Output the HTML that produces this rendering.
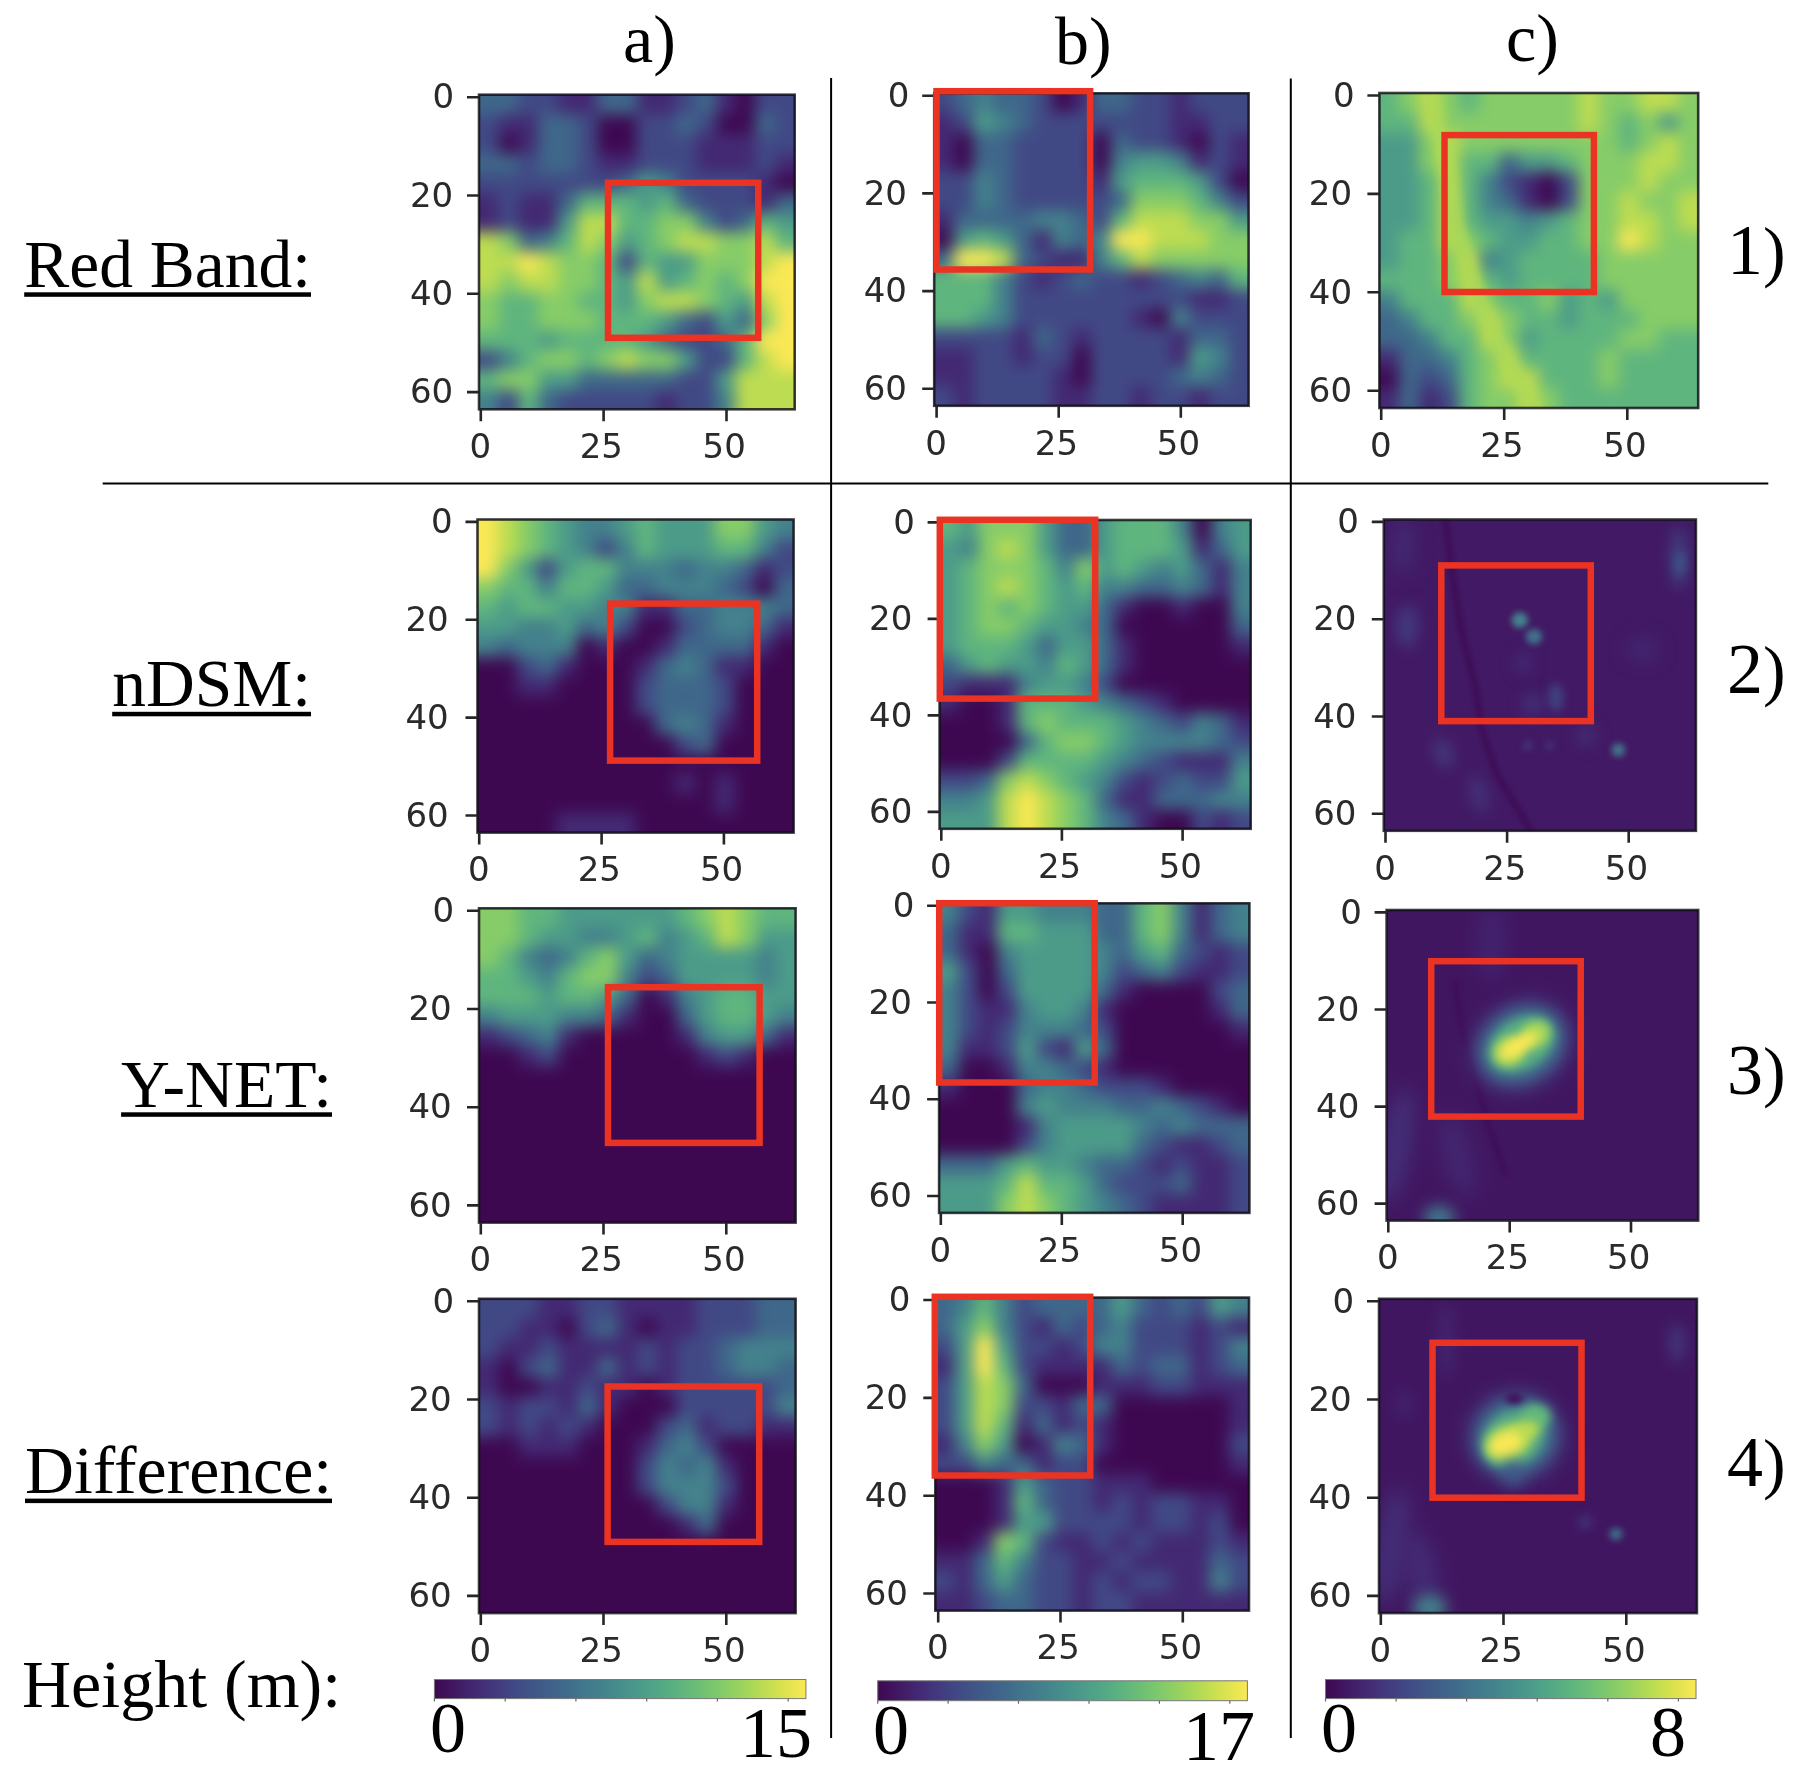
<!DOCTYPE html>
<html lang="en"><head><meta charset="utf-8"><title>Figure</title>
<style>html,body{margin:0;padding:0;background:#fff}svg{display:block}.t{font-family:"DejaVu Sans","Liberation Sans",sans-serif;font-size:34px;fill:#2a2a2a}.s{font-family:"Liberation Serif","Times New Roman",serif;font-size:68px;fill:#000}</style></head><body>
<svg width="1804" height="1784" viewBox="0 0 1804 1784">
<defs>
<filter id="b9" x="-10%" y="-10%" width="120%" height="120%" color-interpolation-filters="sRGB"><feGaussianBlur stdDeviation="7.2"/></filter>
<filter id="b6" x="-10%" y="-10%" width="120%" height="120%" color-interpolation-filters="sRGB"><feGaussianBlur stdDeviation="6"/></filter>
<filter id="b12" x="-10%" y="-10%" width="120%" height="120%" color-interpolation-filters="sRGB"><feGaussianBlur stdDeviation="12"/></filter>
<filter id="d05" x="-200%" y="-200%" width="500%" height="500%" color-interpolation-filters="sRGB"><feGaussianBlur stdDeviation="0.5"/></filter>
<filter id="d07" x="-200%" y="-200%" width="500%" height="500%" color-interpolation-filters="sRGB"><feGaussianBlur stdDeviation="0.7"/></filter>
<filter id="d1" x="-200%" y="-200%" width="500%" height="500%" color-interpolation-filters="sRGB"><feGaussianBlur stdDeviation="1"/></filter>
<filter id="d15" x="-200%" y="-200%" width="500%" height="500%" color-interpolation-filters="sRGB"><feGaussianBlur stdDeviation="1.5"/></filter>
<filter id="d2" x="-200%" y="-200%" width="500%" height="500%" color-interpolation-filters="sRGB"><feGaussianBlur stdDeviation="2"/></filter>
<filter id="d3" x="-200%" y="-200%" width="500%" height="500%" color-interpolation-filters="sRGB"><feGaussianBlur stdDeviation="3"/></filter>
<filter id="tb" x="-5%" y="-5%" width="110%" height="110%"><feGaussianBlur stdDeviation="0.7"/></filter>
<linearGradient id="vg" x1="0" x2="1" y1="0" y2="0"><stop offset="0" stop-color="#3e0851"/><stop offset="0.05" stop-color="#411661"/><stop offset="0.1" stop-color="#432670"/><stop offset="0.15" stop-color="#43357c"/><stop offset="0.2" stop-color="#414483"/><stop offset="0.25" stop-color="#405287"/><stop offset="0.3" stop-color="#3f5e89"/><stop offset="0.35" stop-color="#3f6a8b"/><stop offset="0.4" stop-color="#41778c"/><stop offset="0.45" stop-color="#43828c"/><stop offset="0.5" stop-color="#468e8c"/><stop offset="0.55" stop-color="#4b9a8a"/><stop offset="0.6" stop-color="#51a686"/><stop offset="0.65" stop-color="#5bb180"/><stop offset="0.7" stop-color="#69bc78"/><stop offset="0.75" stop-color="#7ac76e"/><stop offset="0.8" stop-color="#8fcf63"/><stop offset="0.85" stop-color="#a8d758"/><stop offset="0.9" stop-color="#c4de50"/><stop offset="0.95" stop-color="#e0e34e"/><stop offset="1" stop-color="#fae855"/></linearGradient>
<clipPath id="cp0"><rect x="479" y="94.7" width="315.7" height="314.6"/></clipPath>
<clipPath id="cp1"><rect x="934.2" y="93.3" width="314.4" height="312.5"/></clipPath>
<clipPath id="cp2"><rect x="1379.4" y="93" width="318.8" height="315"/></clipPath>
<clipPath id="cp3"><rect x="477.5" y="519.5" width="316.1" height="313.1"/></clipPath>
<clipPath id="cp4"><rect x="939.6" y="520" width="311.1" height="308.8"/></clipPath>
<clipPath id="cp5"><rect x="1383.8" y="519.5" width="312.1" height="311.3"/></clipPath>
<clipPath id="cp6"><rect x="479" y="908.3" width="316.6" height="314.3"/></clipPath>
<clipPath id="cp7"><rect x="939.1" y="903.3" width="310.3" height="309.6"/></clipPath>
<clipPath id="cp8"><rect x="1386.6" y="910" width="311.6" height="310.6"/></clipPath>
<clipPath id="cp9"><rect x="479" y="1298.8" width="316.6" height="314.3"/></clipPath>
<clipPath id="cp10"><rect x="935.3" y="1297.6" width="313.7" height="313"/></clipPath>
<clipPath id="cp11"><rect x="1379" y="1298.8" width="317.9" height="314.3"/></clipPath>
</defs>
<rect width="1804" height="1784" fill="#fff"/>
<g clip-path="url(#cp0)">
<rect x="477" y="92.7" width="319.7" height="318.6" fill="#3e0851"/>
<g filter="url(#b9)"><path fill="#3e0851" d="M735.2 74.7h20.3v20.3h-20.3zM735.2 94.4h20.3v20.3h-20.3zM597.1 114.1h40.1v20.3h-40.1zM715.5 114.1h40.1v20.3h-40.1zM498.4 133.7h20.3v20.3h-20.3zM597.1 133.7h40.1v20.3h-40.1zM774.7 173.1h40.1v20.3h-40.1z"/><path fill="#432973" d="M557.6 74.7h40.1v20.3h-40.1zM636.6 74.7h40.1v20.3h-40.1zM715.5 74.7h20.3v20.3h-20.3zM557.6 94.4h40.1v20.3h-40.1zM636.6 94.4h40.1v20.3h-40.1zM715.5 94.4h20.3v20.3h-20.3zM498.4 114.1h40.1v20.3h-40.1zM518.2 133.7h20.3v20.3h-20.3zM695.7 133.7h59.8v20.3h-59.8zM597.1 153.4h40.1v20.3h-40.1zM695.7 153.4h59.8v20.3h-59.8zM774.7 153.4h40.1v20.3h-40.1zM754.9 173.1h20.3v20.3h-20.3zM459 192.7h40.1v20.3h-40.1zM518.2 192.7h40.1v20.3h-40.1zM754.9 192.7h20.3v20.3h-20.3zM459 212.4h40.1v20.3h-40.1zM518.2 212.4h40.1v20.3h-40.1zM656.3 389.3h20.3v20.3h-20.3zM656.3 409h20.3v20.3h-20.3z"/><path fill="#414985" d="M518.2 74.7h40.1v20.3h-40.1zM676 74.7h20.3v20.3h-20.3zM754.9 74.7h59.8v20.3h-59.8zM518.2 94.4h40.1v20.3h-40.1zM676 94.4h20.3v20.3h-20.3zM754.9 94.4h59.8v20.3h-59.8zM459 114.1h40.1v20.3h-40.1zM577.4 114.1h20.3v20.3h-20.3zM636.6 114.1h40.1v20.3h-40.1zM695.7 114.1h20.3v20.3h-20.3zM774.7 114.1h40.1v20.3h-40.1zM459 133.7h40.1v20.3h-40.1zM577.4 133.7h20.3v20.3h-20.3zM636.6 133.7h59.8v20.3h-59.8zM754.9 133.7h59.8v20.3h-59.8zM518.2 153.4h20.3v20.3h-20.3zM577.4 153.4h20.3v20.3h-20.3zM636.6 153.4h59.8v20.3h-59.8zM754.9 153.4h20.3v20.3h-20.3zM459 173.1h158.5v20.3h-158.5zM676 173.1h79.5v20.3h-79.5zM498.4 192.7h20.3v20.3h-20.3zM695.7 192.7h59.8v20.3h-59.8zM498.4 212.4h20.3v20.3h-20.3zM715.5 212.4h20.3v20.3h-20.3zM616.8 251.7h20.3v20.3h-20.3zM695.7 310.7h20.3v20.3h-20.3zM676 330.4h40.1v20.3h-40.1zM459 350h40.1v20.3h-40.1zM695.7 350h40.1v20.3h-40.1zM676 369.7h40.1v20.3h-40.1zM498.4 389.3h20.3v20.3h-20.3zM557.6 389.3h99.3v20.3h-99.3zM676 389.3h40.1v20.3h-40.1zM498.4 409h20.3v20.3h-20.3zM557.6 409h99.3v20.3h-99.3zM676 409h40.1v20.3h-40.1z"/><path fill="#3f678a" d="M459 74.7h59.8v20.3h-59.8zM597.1 74.7h40.1v20.3h-40.1zM695.7 74.7h20.3v20.3h-20.3zM459 94.4h59.8v20.3h-59.8zM597.1 94.4h40.1v20.3h-40.1zM695.7 94.4h20.3v20.3h-20.3zM537.9 114.1h40.1v20.3h-40.1zM676 114.1h20.3v20.3h-20.3zM754.9 114.1h20.3v20.3h-20.3zM537.9 133.7h40.1v20.3h-40.1zM459 153.4h59.8v20.3h-59.8zM537.9 153.4h40.1v20.3h-40.1zM616.8 173.1h20.3v20.3h-20.3zM557.6 192.7h20.3v20.3h-20.3zM676 192.7h20.3v20.3h-20.3zM774.7 192.7h40.1v20.3h-40.1zM735.2 212.4h20.3v20.3h-20.3zM518.2 232h20.3v20.3h-20.3zM676 310.7h20.3v20.3h-20.3zM735.2 310.7h20.3v20.3h-20.3zM656.3 330.4h20.3v20.3h-20.3zM715.5 330.4h20.3v20.3h-20.3zM577.4 369.7h99.3v20.3h-99.3zM537.9 389.3h20.3v20.3h-20.3zM537.9 409h20.3v20.3h-20.3z"/><path fill="#43818c" d="M656.3 173.1h20.3v20.3h-20.3zM695.7 212.4h20.3v20.3h-20.3zM537.9 232h20.3v20.3h-20.3zM498.4 350h20.3v20.3h-20.3zM459 389.3h40.1v20.3h-40.1zM715.5 389.3h20.3v20.3h-20.3zM459 409h40.1v20.3h-40.1zM715.5 409h20.3v20.3h-20.3z"/><path fill="#4c9b89" d="M636.6 173.1h20.3v20.3h-20.3zM636.6 192.7h20.3v20.3h-20.3zM557.6 212.4h20.3v20.3h-20.3zM774.7 212.4h40.1v20.3h-40.1zM616.8 232h20.3v20.3h-20.3zM656.3 251.7h40.1v20.3h-40.1zM616.8 271.4h20.3v20.3h-20.3zM656.3 271.4h20.3v20.3h-20.3zM616.8 291h20.3v20.3h-20.3zM735.2 291h20.3v20.3h-20.3zM656.3 310.7h20.3v20.3h-20.3zM715.5 310.7h20.3v20.3h-20.3zM537.9 330.4h20.3v20.3h-20.3zM636.6 330.4h20.3v20.3h-20.3zM676 350h20.3v20.3h-20.3zM537.9 369.7h40.1v20.3h-40.1zM715.5 369.7h20.3v20.3h-20.3z"/><path fill="#5fb57e" d="M577.4 192.7h59.8v20.3h-59.8zM656.3 192.7h20.3v20.3h-20.3zM616.8 212.4h40.1v20.3h-40.1zM754.9 212.4h20.3v20.3h-20.3zM557.6 232h20.3v20.3h-20.3zM636.6 232h20.3v20.3h-20.3zM774.7 232h40.1v20.3h-40.1zM597.1 251.7h20.3v20.3h-20.3zM636.6 251.7h20.3v20.3h-20.3zM597.1 271.4h20.3v20.3h-20.3zM676 271.4h20.3v20.3h-20.3zM715.5 271.4h20.3v20.3h-20.3zM498.4 291h40.1v20.3h-40.1zM577.4 291h40.1v20.3h-40.1zM715.5 291h20.3v20.3h-20.3zM498.4 310.7h40.1v20.3h-40.1zM597.1 310.7h59.8v20.3h-59.8zM459 330.4h79.5v20.3h-79.5zM557.6 330.4h79.5v20.3h-79.5zM735.2 330.4h20.3v20.3h-20.3zM518.2 350h20.3v20.3h-20.3zM577.4 350h20.3v20.3h-20.3zM735.2 350h20.3v20.3h-20.3zM459 369.7h40.1v20.3h-40.1zM518.2 389.3h20.3v20.3h-20.3zM518.2 409h20.3v20.3h-20.3z"/><path fill="#86cc68" d="M656.3 212.4h40.1v20.3h-40.1zM498.4 232h20.3v20.3h-20.3zM597.1 232h20.3v20.3h-20.3zM656.3 232h20.3v20.3h-20.3zM715.5 232h40.1v20.3h-40.1zM557.6 251.7h40.1v20.3h-40.1zM695.7 251.7h59.8v20.3h-59.8zM498.4 271.4h20.3v20.3h-20.3zM557.6 271.4h40.1v20.3h-40.1zM695.7 271.4h20.3v20.3h-20.3zM735.2 271.4h20.3v20.3h-20.3zM459 291h40.1v20.3h-40.1zM537.9 291h40.1v20.3h-40.1zM636.6 291h20.3v20.3h-20.3zM695.7 291h20.3v20.3h-20.3zM459 310.7h40.1v20.3h-40.1zM537.9 310.7h59.8v20.3h-59.8zM754.9 310.7h20.3v20.3h-20.3zM537.9 350h40.1v20.3h-40.1zM597.1 350h20.3v20.3h-20.3zM636.6 350h40.1v20.3h-40.1zM498.4 369.7h40.1v20.3h-40.1z"/><path fill="#bddc51" d="M577.4 212.4h40.1v20.3h-40.1zM459 232h40.1v20.3h-40.1zM577.4 232h20.3v20.3h-20.3zM676 232h40.1v20.3h-40.1zM754.9 232h20.3v20.3h-20.3zM459 251.7h59.8v20.3h-59.8zM537.9 251.7h20.3v20.3h-20.3zM754.9 251.7h20.3v20.3h-20.3zM459 271.4h40.1v20.3h-40.1zM518.2 271.4h40.1v20.3h-40.1zM636.6 271.4h20.3v20.3h-20.3zM656.3 291h40.1v20.3h-40.1zM754.9 291h20.3v20.3h-20.3zM616.8 350h20.3v20.3h-20.3zM754.9 350h20.3v20.3h-20.3zM735.2 369.7h79.5v20.3h-79.5zM735.2 389.3h79.5v20.3h-79.5zM735.2 409h79.5v20.3h-79.5z"/><path fill="#fae855" d="M518.2 251.7h20.3v20.3h-20.3zM774.7 251.7h40.1v20.3h-40.1zM754.9 271.4h59.8v20.3h-59.8zM774.7 291h40.1v20.3h-40.1zM774.7 310.7h40.1v20.3h-40.1zM754.9 330.4h59.8v20.3h-59.8zM774.7 350h40.1v20.3h-40.1z"/></g>
</g>
<rect x="479" y="94.7" width="315.7" height="314.6" fill="none" stroke="#0c0c14" stroke-opacity="0.8" stroke-width="2.6"/>
<g filter="url(#tb)">
<text class="t" x="480.3" y="458.1" text-anchor="middle">0</text>
<text class="t" x="601.3" y="458.1" text-anchor="middle">25</text>
<text class="t" x="724.2" y="458.1" text-anchor="middle">50</text>
<text class="t" x="454.2" y="108.4" text-anchor="end">0</text>
<text class="t" x="453.2" y="206.7" text-anchor="end">20</text>
<text class="t" x="453.2" y="305" text-anchor="end">40</text>
<text class="t" x="453.2" y="403.3" text-anchor="end">60</text>
<path d="M480.8 409.3v12M603.6 409.3v12M726.5 409.3v12M479 97.2h-12M479 195.5h-12M479 293.8h-12M479 392.1h-12" stroke="#262626" stroke-width="2.6" fill="none"/>
</g>
<rect x="608" y="182.8" width="150.2" height="155" fill="none" stroke="#ea3323" stroke-width="6.5"/>
<g clip-path="url(#cp1)">
<rect x="932.2" y="91.3" width="318.4" height="316.5" fill="#3e0851"/>
<g filter="url(#b9)"><path fill="#3e0851" d="M1051.8 73.5h20.3v20.1h-20.3zM1051.8 93h20.3v20.1h-20.3zM953.6 132.1h20.2v20.1h-20.2zM1091.1 132.1h20.2v20.1h-20.2zM1189.3 132.1h20.3v20.1h-20.3zM953.6 151.6h20.2v20.1h-20.2zM1091.1 151.6h20.2v20.1h-20.2zM1228.6 171.1h39.9v20.1h-39.9zM914.3 229.7h39.9v20.1h-39.9zM1150 307.8h20.3v20.1h-20.3zM1071.5 346.9h20.3v20.1h-20.3zM1071.5 366.4h20.3v20.1h-20.3z"/><path fill="#432973" d="M1071.5 73.5h20.3v20.1h-20.3zM1169.7 73.5h20.2v20.1h-20.2zM1071.5 93h20.3v20.1h-20.3zM1169.7 93h20.2v20.1h-20.2zM914.3 112.5h39.9v20.1h-39.9zM1169.7 112.5h39.9v20.1h-39.9zM914.3 132.1h39.9v20.1h-39.9zM1169.7 132.1h20.2v20.1h-20.2zM1228.6 132.1h39.9v20.1h-39.9zM914.3 151.6h39.9v20.1h-39.9zM1189.3 151.6h20.3v20.1h-20.3zM1228.6 151.6h39.9v20.1h-39.9zM1091.1 171.1h20.2v20.1h-20.2zM914.3 210.2h39.9v20.1h-39.9zM1032.2 229.7h20.2v20.1h-20.2zM1051.8 249.2h39.9v20.1h-39.9zM1032.2 268.8h20.2v20.1h-20.2zM1130.4 268.8h20.2v20.1h-20.2zM1189.3 288.3h39.9v20.1h-39.9zM1130.4 307.8h20.2v20.1h-20.2zM1012.5 327.4h20.3v20.1h-20.3zM1071.5 327.4h20.3v20.1h-20.3zM1169.7 327.4h20.2v20.1h-20.2zM914.3 346.9h59.5v20.1h-59.5zM1012.5 346.9h20.3v20.1h-20.3zM1169.7 346.9h20.2v20.1h-20.2zM914.3 366.4h59.5v20.1h-59.5zM1051.8 366.4h20.3v20.1h-20.3zM953.6 386h20.2v20.1h-20.2zM1051.8 386h39.9v20.1h-39.9zM1130.4 386h20.2v20.1h-20.2zM1189.3 386h20.3v20.1h-20.3zM953.6 405.5h20.2v20.1h-20.2zM1051.8 405.5h39.9v20.1h-39.9zM1130.4 405.5h20.2v20.1h-20.2zM1189.3 405.5h20.3v20.1h-20.3z"/><path fill="#414985" d="M914.3 73.5h39.9v20.1h-39.9zM1032.2 73.5h20.2v20.1h-20.2zM1130.4 73.5h39.9v20.1h-39.9zM1189.3 73.5h79.2v20.1h-79.2zM914.3 93h39.9v20.1h-39.9zM1032.2 93h20.2v20.1h-20.2zM1130.4 93h39.9v20.1h-39.9zM1189.3 93h79.2v20.1h-79.2zM953.6 112.5h20.2v20.1h-20.2zM1032.2 112.5h138.1v20.1h-138.1zM1209 112.5h59.6v20.1h-59.6zM1012.5 132.1h79.2v20.1h-79.2zM1130.4 132.1h39.9v20.1h-39.9zM1209 132.1h20.2v20.1h-20.2zM1012.5 151.6h79.2v20.1h-79.2zM1209 151.6h20.2v20.1h-20.2zM914.3 171.1h59.5v20.1h-59.5zM1012.5 171.1h79.2v20.1h-79.2zM1209 171.1h20.2v20.1h-20.2zM914.3 190.7h59.5v20.1h-59.5zM1012.5 190.7h98.8v20.1h-98.8zM1228.6 190.7h39.9v20.1h-39.9zM1091.1 210.2h20.2v20.1h-20.2zM1032.2 249.2h20.2v20.1h-20.2zM1012.5 268.8h20.3v20.1h-20.3zM1051.8 268.8h20.3v20.1h-20.3zM1091.1 268.8h39.9v20.1h-39.9zM1150 268.8h20.3v20.1h-20.3zM1012.5 288.3h177.4v20.1h-177.4zM1228.6 288.3h39.9v20.1h-39.9zM1012.5 307.8h118.5v20.1h-118.5zM1189.3 307.8h79.2v20.1h-79.2zM914.3 327.4h98.8v20.1h-98.8zM1051.8 327.4h20.3v20.1h-20.3zM1091.1 327.4h79.2v20.1h-79.2zM1228.6 327.4h39.9v20.1h-39.9zM973.2 346.9h39.9v20.1h-39.9zM1032.2 346.9h39.9v20.1h-39.9zM1091.1 346.9h79.2v20.1h-79.2zM1228.6 346.9h39.9v20.1h-39.9zM973.2 366.4h79.2v20.1h-79.2zM1091.1 366.4h79.2v20.1h-79.2zM1228.6 366.4h39.9v20.1h-39.9zM914.3 386h39.9v20.1h-39.9zM973.2 386h79.2v20.1h-79.2zM1091.1 386h39.9v20.1h-39.9zM1150 386h39.9v20.1h-39.9zM1209 386h59.6v20.1h-59.6zM914.3 405.5h39.9v20.1h-39.9zM973.2 405.5h79.2v20.1h-79.2zM1091.1 405.5h39.9v20.1h-39.9zM1150 405.5h39.9v20.1h-39.9zM1209 405.5h59.6v20.1h-59.6z"/><path fill="#3f678a" d="M953.6 73.5h20.2v20.1h-20.2zM992.9 73.5h39.9v20.1h-39.9zM1091.1 73.5h39.9v20.1h-39.9zM953.6 93h20.2v20.1h-20.2zM992.9 93h39.9v20.1h-39.9zM1091.1 93h39.9v20.1h-39.9zM1012.5 112.5h20.3v20.1h-20.3zM973.2 132.1h39.9v20.1h-39.9zM1110.8 132.1h20.3v20.1h-20.3zM973.2 151.6h39.9v20.1h-39.9zM992.9 171.1h20.2v20.1h-20.2zM992.9 190.7h20.2v20.1h-20.2zM1110.8 190.7h20.3v20.1h-20.3zM953.6 210.2h79.2v20.1h-79.2zM1071.5 210.2h20.3v20.1h-20.3zM1012.5 229.7h20.3v20.1h-20.3zM1071.5 229.7h20.3v20.1h-20.3zM914.3 249.2h39.9v20.1h-39.9zM1012.5 249.2h20.3v20.1h-20.3zM1071.5 268.8h20.3v20.1h-20.3zM1169.7 268.8h20.2v20.1h-20.2zM1209 268.8h20.2v20.1h-20.2zM1032.2 327.4h20.2v20.1h-20.2zM1189.3 327.4h39.9v20.1h-39.9zM1169.7 366.4h20.2v20.1h-20.2zM1209 366.4h20.2v20.1h-20.2z"/><path fill="#43818c" d="M973.2 73.5h20.2v20.1h-20.2zM973.2 93h20.2v20.1h-20.2zM992.9 112.5h20.2v20.1h-20.2zM1110.8 151.6h20.3v20.1h-20.3zM1169.7 151.6h20.2v20.1h-20.2zM973.2 171.1h20.2v20.1h-20.2zM973.2 190.7h20.2v20.1h-20.2zM1209 190.7h20.2v20.1h-20.2zM1032.2 210.2h39.9v20.1h-39.9zM1051.8 229.7h20.3v20.1h-20.3zM1091.1 229.7h20.2v20.1h-20.2zM1091.1 249.2h20.2v20.1h-20.2zM992.9 268.8h20.2v20.1h-20.2zM1189.3 268.8h20.3v20.1h-20.3zM992.9 288.3h20.2v20.1h-20.2zM992.9 307.8h20.2v20.1h-20.2zM1169.7 307.8h20.2v20.1h-20.2zM1209 346.9h20.2v20.1h-20.2zM1189.3 366.4h20.3v20.1h-20.3z"/><path fill="#4c9b89" d="M973.2 112.5h20.2v20.1h-20.2zM1130.4 151.6h39.9v20.1h-39.9zM1110.8 171.1h20.3v20.1h-20.3zM1189.3 171.1h20.3v20.1h-20.3zM1228.6 210.2h39.9v20.1h-39.9zM953.6 229.7h20.2v20.1h-20.2zM992.9 229.7h20.2v20.1h-20.2zM973.2 307.8h20.2v20.1h-20.2zM1189.3 346.9h20.3v20.1h-20.3z"/><path fill="#5fb57e" d="M1130.4 171.1h59.5v20.1h-59.5zM1189.3 190.7h20.3v20.1h-20.3zM1110.8 210.2h20.3v20.1h-20.3zM973.2 229.7h20.2v20.1h-20.2zM1110.8 249.2h20.3v20.1h-20.3zM914.3 268.8h79.2v20.1h-79.2zM1228.6 268.8h39.9v20.1h-39.9zM914.3 288.3h79.2v20.1h-79.2zM914.3 307.8h59.5v20.1h-59.5z"/><path fill="#86cc68" d="M1130.4 190.7h59.5v20.1h-59.5zM1189.3 210.2h39.9v20.1h-39.9zM1209 229.7h59.6v20.1h-59.6zM1150 249.2h118.5v20.1h-118.5z"/><path fill="#bddc51" d="M1130.4 210.2h59.5v20.1h-59.5zM1150 229.7h59.6v20.1h-59.6zM992.9 249.2h20.2v20.1h-20.2zM1130.4 249.2h20.2v20.1h-20.2z"/><path fill="#fae855" d="M1110.8 229.7h39.9v20.1h-39.9zM953.6 249.2h39.9v20.1h-39.9z"/></g>
</g>
<rect x="934.2" y="93.3" width="314.4" height="312.5" fill="none" stroke="#0c0c14" stroke-opacity="0.8" stroke-width="2.6"/>
<g filter="url(#tb)">
<text class="t" x="936.1" y="454.6" text-anchor="middle">0</text>
<text class="t" x="1056.4" y="454.6" text-anchor="middle">25</text>
<text class="t" x="1178.5" y="454.6" text-anchor="middle">50</text>
<text class="t" x="909.4" y="106.9" text-anchor="end">0</text>
<text class="t" x="906.9" y="204.6" text-anchor="end">20</text>
<text class="t" x="906.9" y="302.3" text-anchor="end">40</text>
<text class="t" x="906.9" y="399.9" text-anchor="end">60</text>
<path d="M936.6 405.8v12M1058.7 405.8v12M1180.8 405.8v12M934.2 95.7h-12M934.2 193.4h-12M934.2 291.1h-12M934.2 388.7h-12" stroke="#262626" stroke-width="2.6" fill="none"/>
</g>
<rect x="936.5" y="91.2" width="153.6" height="178.3" fill="none" stroke="#ea3323" stroke-width="6.5"/>
<g clip-path="url(#cp2)">
<rect x="1377.4" y="91" width="322.8" height="319" fill="#3e0851"/>
<g filter="url(#b9)"><path fill="#3e0851" d="M1538.5 171.4h20.5v20.3h-20.5zM1538.5 191.1h20.5v20.3h-20.5zM1359.2 368.3h40.4v20.3h-40.4z"/><path fill="#432973" d="M1518.6 171.4h20.5v20.3h-20.5zM1518.6 191.1h20.5v20.3h-20.5zM1359.2 348.6h40.4v20.3h-40.4zM1359.2 388h40.4v20.3h-40.4zM1419 388h20.5v20.3h-20.5zM1359.2 407.7h40.4v20.3h-40.4zM1419 407.7h20.5v20.3h-20.5z"/><path fill="#414985" d="M1498.7 171.4h20.5v20.3h-20.5zM1558.4 171.4h20.5v20.3h-20.5zM1558.4 191.1h20.5v20.3h-20.5zM1419 368.3h20.5v20.3h-20.5zM1438.9 388h20.5v20.3h-20.5zM1438.9 407.7h20.5v20.3h-20.5z"/><path fill="#3f678a" d="M1498.7 151.8h20.5v20.3h-20.5zM1498.7 191.1h20.5v20.3h-20.5zM1359.2 309.3h40.4v20.3h-40.4zM1359.2 328.9h60.4v20.3h-60.4zM1399 348.6h40.5v20.3h-40.5zM1399 368.3h20.5v20.3h-20.5zM1438.9 368.3h20.5v20.3h-20.5zM1399 388h20.5v20.3h-20.5zM1399 407.7h20.5v20.3h-20.5z"/><path fill="#43818c" d="M1478.7 171.4h20.5v20.3h-20.5zM1478.7 191.1h20.5v20.3h-20.5zM1518.6 210.8h20.5v20.3h-20.5zM1478.7 250.2h20.5v20.3h-20.5zM1359.2 289.6h40.4v20.3h-40.4zM1399 309.3h20.5v20.3h-20.5zM1419 328.9h20.5v20.3h-20.5zM1438.9 348.6h20.5v20.3h-20.5z"/><path fill="#4c9b89" d="M1658 112.4h20.5v20.3h-20.5zM1359.2 132.1h60.4v20.3h-60.4zM1359.2 151.8h60.4v20.3h-60.4zM1518.6 151.8h40.5v20.3h-40.5zM1359.2 171.4h60.4v20.3h-60.4zM1359.2 191.1h60.4v20.3h-60.4zM1359.2 210.8h60.4v20.3h-60.4zM1478.7 210.8h40.4v20.3h-40.4zM1538.5 210.8h20.5v20.3h-20.5zM1359.2 230.5h40.4v20.3h-40.4zM1498.7 230.5h40.5v20.3h-40.5zM1359.2 250.2h40.4v20.3h-40.4zM1498.7 250.2h20.5v20.3h-20.5zM1498.7 269.9h20.5v20.3h-20.5zM1558.4 289.6h20.5v20.3h-20.5zM1598.3 289.6h20.5v20.3h-20.5zM1558.4 309.3h20.5v20.3h-20.5zM1518.6 328.9h20.5v20.3h-20.5z"/><path fill="#5fb57e" d="M1359.2 73h40.4v20.3h-40.4zM1458.8 73h20.5v20.3h-20.5zM1359.2 92.7h40.4v20.3h-40.4zM1458.8 92.7h20.5v20.3h-20.5zM1359.2 112.4h60.4v20.3h-60.4zM1618.2 112.4h20.5v20.3h-20.5zM1618.2 132.1h20.5v20.3h-20.5zM1458.8 151.8h40.4v20.3h-40.4zM1558.4 151.8h20.5v20.3h-20.5zM1419 171.4h20.5v20.3h-20.5zM1458.8 171.4h20.5v20.3h-20.5zM1419 191.1h20.5v20.3h-20.5zM1458.8 191.1h20.5v20.3h-20.5zM1419 210.8h20.5v20.3h-20.5zM1458.8 210.8h20.5v20.3h-20.5zM1558.4 210.8h20.5v20.3h-20.5zM1399 230.5h40.5v20.3h-40.5zM1478.7 230.5h20.5v20.3h-20.5zM1538.5 230.5h40.4v20.3h-40.4zM1399 250.2h40.5v20.3h-40.5zM1518.6 250.2h80.3v20.3h-80.3zM1359.2 269.9h80.3v20.3h-80.3zM1478.7 269.9h20.5v20.3h-20.5zM1518.6 269.9h80.3v20.3h-80.3zM1399 289.6h60.4v20.3h-60.4zM1498.7 289.6h40.5v20.3h-40.5zM1578.4 289.6h20.5v20.3h-20.5zM1419 309.3h40.5v20.3h-40.5zM1518.6 309.3h40.5v20.3h-40.5zM1578.4 309.3h60.4v20.3h-60.4zM1438.9 328.9h40.4v20.3h-40.4zM1538.5 328.9h80.3v20.3h-80.3zM1658 328.9h60.4v20.3h-60.4zM1458.8 348.6h20.5v20.3h-20.5zM1518.6 348.6h80.3v20.3h-80.3zM1618.2 348.6h100.2v20.3h-100.2zM1458.8 368.3h20.5v20.3h-20.5zM1538.5 368.3h60.4v20.3h-60.4zM1618.2 368.3h100.2v20.3h-100.2zM1458.8 388h20.5v20.3h-20.5zM1558.4 388h160v20.3h-160zM1458.8 407.7h20.5v20.3h-20.5zM1558.4 407.7h160v20.3h-160z"/><path fill="#86cc68" d="M1399 73h20.5v20.3h-20.5zM1438.9 73h20.5v20.3h-20.5zM1478.7 73h100.2v20.3h-100.2zM1598.3 73h40.5v20.3h-40.5zM1678 73h40.4v20.3h-40.4zM1399 92.7h20.5v20.3h-20.5zM1438.9 92.7h20.5v20.3h-20.5zM1478.7 92.7h100.2v20.3h-100.2zM1598.3 92.7h40.5v20.3h-40.5zM1678 92.7h40.4v20.3h-40.4zM1438.9 112.4h140.1v20.3h-140.1zM1598.3 112.4h20.5v20.3h-20.5zM1638.1 112.4h20.5v20.3h-20.5zM1678 112.4h40.4v20.3h-40.4zM1419 132.1h20.5v20.3h-20.5zM1458.8 132.1h160v20.3h-160zM1638.1 132.1h20.5v20.3h-20.5zM1678 132.1h40.4v20.3h-40.4zM1419 151.8h20.5v20.3h-20.5zM1578.4 151.8h60.4v20.3h-60.4zM1678 151.8h40.4v20.3h-40.4zM1578.4 171.4h60.4v20.3h-60.4zM1658 171.4h60.4v20.3h-60.4zM1578.4 191.1h40.4v20.3h-40.4zM1638.1 191.1h40.4v20.3h-40.4zM1578.4 210.8h40.4v20.3h-40.4zM1658 210.8h20.5v20.3h-20.5zM1458.8 230.5h20.5v20.3h-20.5zM1578.4 230.5h40.4v20.3h-40.4zM1658 230.5h60.4v20.3h-60.4zM1438.9 250.2h20.5v20.3h-20.5zM1598.3 250.2h120.1v20.3h-120.1zM1438.9 269.9h20.5v20.3h-20.5zM1598.3 269.9h120.1v20.3h-120.1zM1478.7 289.6h20.5v20.3h-20.5zM1538.5 289.6h20.5v20.3h-20.5zM1618.2 289.6h100.2v20.3h-100.2zM1458.8 309.3h20.5v20.3h-20.5zM1498.7 309.3h20.5v20.3h-20.5zM1638.1 309.3h80.3v20.3h-80.3zM1498.7 328.9h20.5v20.3h-20.5zM1618.2 328.9h40.4v20.3h-40.4zM1478.7 348.6h20.5v20.3h-20.5zM1598.3 348.6h20.5v20.3h-20.5zM1478.7 368.3h20.5v20.3h-20.5zM1598.3 368.3h20.5v20.3h-20.5zM1478.7 388h40.4v20.3h-40.4zM1538.5 388h20.5v20.3h-20.5zM1478.7 407.7h40.4v20.3h-40.4zM1538.5 407.7h20.5v20.3h-20.5z"/><path fill="#bddc51" d="M1419 73h20.5v20.3h-20.5zM1578.4 73h20.5v20.3h-20.5zM1638.1 73h40.4v20.3h-40.4zM1419 92.7h20.5v20.3h-20.5zM1578.4 92.7h20.5v20.3h-20.5zM1638.1 92.7h40.4v20.3h-40.4zM1419 112.4h20.5v20.3h-20.5zM1578.4 112.4h20.5v20.3h-20.5zM1438.9 132.1h20.5v20.3h-20.5zM1658 132.1h20.5v20.3h-20.5zM1438.9 151.8h20.5v20.3h-20.5zM1638.1 151.8h40.4v20.3h-40.4zM1438.9 171.4h20.5v20.3h-20.5zM1638.1 171.4h20.5v20.3h-20.5zM1438.9 191.1h20.5v20.3h-20.5zM1618.2 191.1h20.5v20.3h-20.5zM1678 191.1h40.4v20.3h-40.4zM1438.9 210.8h20.5v20.3h-20.5zM1618.2 210.8h40.4v20.3h-40.4zM1678 210.8h40.4v20.3h-40.4zM1438.9 230.5h20.5v20.3h-20.5zM1638.1 230.5h20.5v20.3h-20.5zM1458.8 250.2h20.5v20.3h-20.5zM1458.8 269.9h20.5v20.3h-20.5zM1458.8 289.6h20.5v20.3h-20.5zM1478.7 309.3h20.5v20.3h-20.5zM1478.7 328.9h20.5v20.3h-20.5zM1498.7 348.6h20.5v20.3h-20.5zM1498.7 368.3h40.5v20.3h-40.5zM1518.6 388h20.5v20.3h-20.5zM1518.6 407.7h20.5v20.3h-20.5z"/><path fill="#fae855" d="M1618.2 230.5h20.5v20.3h-20.5z"/></g>
<g transform="translate(1381.9 95.5) scale(4.9812 4.9219)">
<path d="M10.1 -1 L11.6 8.4 L13.7 17.2 L15.1 26.1 L16.9 33.2 L19.4 40.3 L22.2 47.4 L25.7 54.5 L31 64" fill="none" stroke="#aed956" stroke-width="2.6" stroke-linecap="round" stroke-linejoin="round" opacity="0.8" filter="url(#d1)"/>
</g>
</g>
<rect x="1379.4" y="93" width="318.8" height="315" fill="none" stroke="#0c0c14" stroke-opacity="0.8" stroke-width="2.6"/>
<g filter="url(#tb)">
<text class="t" x="1380.7" y="456.8" text-anchor="middle">0</text>
<text class="t" x="1501.9" y="456.8" text-anchor="middle">25</text>
<text class="t" x="1625" y="456.8" text-anchor="middle">50</text>
<text class="t" x="1354.6" y="106.7" text-anchor="end">0</text>
<text class="t" x="1352.1" y="205.1" text-anchor="end">20</text>
<text class="t" x="1352.1" y="303.5" text-anchor="end">40</text>
<text class="t" x="1352.1" y="402" text-anchor="end">60</text>
<path d="M1381.2 408v12M1504.2 408v12M1627.3 408v12M1379.4 95.5h-12M1379.4 193.9h-12M1379.4 292.3h-12M1379.4 390.8h-12" stroke="#262626" stroke-width="2.6" fill="none"/>
</g>
<rect x="1444.5" y="135.1" width="149.4" height="156.9" fill="none" stroke="#ea3323" stroke-width="6.5"/>
<g clip-path="url(#cp3)">
<rect x="475.5" y="517.5" width="320.1" height="317.1" fill="#3e0851"/>
<g filter="url(#b9)"><path fill="#3e0851" d="M753.8 577.9h20.4v20.2h-20.4zM635.2 617h40.1v20.2h-40.1zM576 636.6h20.4v20.2h-20.4zM615.5 636.6h40.1v20.2h-40.1zM773.5 636.6h40.1v20.2h-40.1zM457.4 656.2h59.9v20.2h-59.9zM576 656.2h59.9v20.2h-59.9zM753.8 656.2h59.9v20.2h-59.9zM457.4 675.8h59.9v20.2h-59.9zM556.2 675.8h79.6v20.2h-79.6zM734 675.8h79.6v20.2h-79.6zM457.4 695.3h178.4v20.2h-178.4zM734 695.3h79.6v20.2h-79.6zM457.4 714.9h198.2v20.2h-198.2zM734 714.9h79.6v20.2h-79.6zM457.4 734.5h217.9v20.2h-217.9zM714.3 734.5h99.4v20.2h-99.4zM457.4 754h356.2v20.2h-356.2zM457.4 773.6h217.9v20.2h-217.9zM694.5 773.6h20.4v20.2h-20.4zM734 773.6h79.6v20.2h-79.6zM457.4 793.2h257.4v20.2h-257.4zM734 793.2h79.6v20.2h-79.6zM457.4 812.7h99.4v20.2h-99.4zM635.2 812.7h178.4v20.2h-178.4zM457.4 832.3h99.4v20.2h-99.4zM635.2 832.3h178.4v20.2h-178.4z"/><path fill="#432973" d="M753.8 558.3h20.4v20.2h-20.4zM635.2 597.5h40.1v20.2h-40.1zM773.5 617h40.1v20.2h-40.1zM595.7 636.6h20.4v20.2h-20.4zM655 636.6h20.4v20.2h-20.4zM753.8 636.6h20.4v20.2h-20.4zM556.2 656.2h20.4v20.2h-20.4zM635.2 656.2h20.4v20.2h-20.4zM714.3 656.2h40.1v20.2h-40.1zM516.7 675.8h40.1v20.2h-40.1zM714.3 714.9h20.4v20.2h-20.4zM674.8 773.6h20.4v20.2h-20.4zM714.3 773.6h20.4v20.2h-20.4zM714.3 793.2h20.4v20.2h-20.4zM556.2 812.7h79.6v20.2h-79.6zM556.2 832.3h79.6v20.2h-79.6z"/><path fill="#414985" d="M595.7 538.8h20.4v20.2h-20.4zM773.5 538.8h40.1v20.2h-40.1zM536.5 558.3h20.4v20.2h-20.4zM773.5 558.3h40.1v20.2h-40.1zM734 577.9h20.4v20.2h-20.4zM615.5 617h20.4v20.2h-20.4zM674.8 617h20.4v20.2h-20.4zM516.7 656.2h20.4v20.2h-20.4zM635.2 675.8h20.4v20.2h-20.4zM714.3 675.8h20.4v20.2h-20.4zM635.2 695.3h20.4v20.2h-20.4zM714.3 695.3h20.4v20.2h-20.4zM674.8 734.5h20.4v20.2h-20.4z"/><path fill="#3f678a" d="M674.8 558.3h20.4v20.2h-20.4zM734 558.3h20.4v20.2h-20.4zM615.5 577.9h40.1v20.2h-40.1zM714.3 577.9h20.4v20.2h-20.4zM773.5 577.9h40.1v20.2h-40.1zM674.8 597.5h40.1v20.2h-40.1zM773.5 597.5h40.1v20.2h-40.1zM576 617h20.4v20.2h-20.4zM694.5 617h20.4v20.2h-20.4zM753.8 617h20.4v20.2h-20.4zM497 636.6h20.4v20.2h-20.4zM674.8 636.6h79.6v20.2h-79.6zM536.5 656.2h20.4v20.2h-20.4zM655 656.2h20.4v20.2h-20.4zM694.5 656.2h20.4v20.2h-20.4zM655 675.8h59.9v20.2h-59.9zM655 695.3h59.9v20.2h-59.9zM655 714.9h20.4v20.2h-20.4zM694.5 714.9h20.4v20.2h-20.4zM694.5 734.5h20.4v20.2h-20.4z"/><path fill="#43818c" d="M576 499.6h40.1v20.2h-40.1zM773.5 499.6h40.1v20.2h-40.1zM576 519.2h40.1v20.2h-40.1zM773.5 519.2h40.1v20.2h-40.1zM576 538.8h20.4v20.2h-20.4zM615.5 538.8h20.4v20.2h-20.4zM753.8 538.8h20.4v20.2h-20.4zM615.5 558.3h59.9v20.2h-59.9zM694.5 558.3h40.1v20.2h-40.1zM536.5 577.9h20.4v20.2h-20.4zM655 577.9h59.9v20.2h-59.9zM595.7 597.5h40.1v20.2h-40.1zM714.3 597.5h59.9v20.2h-59.9zM516.7 617h40.1v20.2h-40.1zM595.7 617h20.4v20.2h-20.4zM714.3 617h40.1v20.2h-40.1zM457.4 636.6h40.1v20.2h-40.1zM516.7 636.6h59.9v20.2h-59.9zM674.8 656.2h20.4v20.2h-20.4zM674.8 714.9h20.4v20.2h-20.4z"/><path fill="#4c9b89" d="M556.2 499.6h20.4v20.2h-20.4zM615.5 499.6h20.4v20.2h-20.4zM655 499.6h59.9v20.2h-59.9zM753.8 499.6h20.4v20.2h-20.4zM556.2 519.2h20.4v20.2h-20.4zM615.5 519.2h20.4v20.2h-20.4zM655 519.2h59.9v20.2h-59.9zM753.8 519.2h20.4v20.2h-20.4zM556.2 538.8h20.4v20.2h-20.4zM655 538.8h59.9v20.2h-59.9zM516.7 558.3h20.4v20.2h-20.4zM556.2 558.3h20.4v20.2h-20.4zM595.7 577.9h20.4v20.2h-20.4zM497 597.5h20.4v20.2h-20.4zM556.2 597.5h40.1v20.2h-40.1zM457.4 617h59.9v20.2h-59.9zM556.2 617h20.4v20.2h-20.4z"/><path fill="#5fb57e" d="M536.5 499.6h20.4v20.2h-20.4zM635.2 499.6h20.4v20.2h-20.4zM536.5 519.2h20.4v20.2h-20.4zM635.2 519.2h20.4v20.2h-20.4zM536.5 538.8h20.4v20.2h-20.4zM635.2 538.8h20.4v20.2h-20.4zM714.3 538.8h40.1v20.2h-40.1zM576 558.3h40.1v20.2h-40.1zM497 577.9h40.1v20.2h-40.1zM556.2 577.9h40.1v20.2h-40.1zM457.4 597.5h40.1v20.2h-40.1zM516.7 597.5h40.1v20.2h-40.1z"/><path fill="#86cc68" d="M516.7 499.6h20.4v20.2h-20.4zM714.3 499.6h40.1v20.2h-40.1zM516.7 519.2h20.4v20.2h-20.4zM714.3 519.2h40.1v20.2h-40.1zM516.7 538.8h20.4v20.2h-20.4zM497 558.3h20.4v20.2h-20.4zM457.4 577.9h40.1v20.2h-40.1z"/><path fill="#bddc51" d="M497 499.6h20.4v20.2h-20.4zM497 519.2h20.4v20.2h-20.4zM497 538.8h20.4v20.2h-20.4z"/><path fill="#fae855" d="M457.4 499.6h40.1v20.2h-40.1zM457.4 519.2h40.1v20.2h-40.1zM457.4 538.8h40.1v20.2h-40.1zM457.4 558.3h40.1v20.2h-40.1z"/></g>
</g>
<rect x="477.5" y="519.5" width="316.1" height="313.1" fill="none" stroke="#0c0c14" stroke-opacity="0.8" stroke-width="2.6"/>
<g filter="url(#tb)">
<text class="t" x="478.7" y="881.4" text-anchor="middle">0</text>
<text class="t" x="599.3" y="881.4" text-anchor="middle">25</text>
<text class="t" x="721.6" y="881.4" text-anchor="middle">50</text>
<text class="t" x="452.7" y="533.1" text-anchor="end">0</text>
<text class="t" x="448.7" y="631" text-anchor="end">20</text>
<text class="t" x="448.7" y="728.8" text-anchor="end">40</text>
<text class="t" x="448.7" y="826.7" text-anchor="end">60</text>
<path d="M479.2 832.6v12M601.6 832.6v12M723.9 832.6v12M477.5 521.9h-12M477.5 619.8h-12M477.5 717.6h-12M477.5 815.5h-12" stroke="#262626" stroke-width="2.6" fill="none"/>
</g>
<rect x="610.1" y="603.6" width="147.1" height="157" fill="none" stroke="#ea3323" stroke-width="6.5"/>
<g clip-path="url(#cp4)">
<rect x="937.6" y="518" width="315.1" height="312.8" fill="#3e0851"/>
<g filter="url(#b9)"><path fill="#3e0851" d="M1192.1 500.4h20v19.9h-20zM1192.1 519.7h20v19.9h-20zM1133.7 596.9h39.5v19.9h-39.5zM1192.1 596.9h39.5v19.9h-39.5zM1114.3 616.2h117.3v19.9h-117.3zM1133.7 635.5h97.8v19.9h-97.8zM1133.7 654.8h136.7v19.9h-136.7zM1114.3 674.1h156.2v19.9h-156.2zM958.7 693.4h39.5v19.9h-39.5zM1172.6 693.4h97.8v19.9h-97.8zM919.9 712.7h78.4v19.9h-78.4zM919.9 732h97.8v19.9h-97.8zM919.9 751.3h78.4v19.9h-78.4zM1153.2 809.2h39.5v19.9h-39.5zM1153.2 828.5h39.5v19.9h-39.5z"/><path fill="#432973" d="M1192.1 539h20v19.9h-20zM1211.5 558.3h20v19.9h-20zM1211.5 577.6h20v19.9h-20zM1114.3 596.9h20v19.9h-20zM1172.6 596.9h20v19.9h-20zM1114.3 635.5h20v19.9h-20zM1231 635.5h39.5v19.9h-39.5zM1114.3 654.8h20v19.9h-20zM958.7 674.1h58.9v19.9h-58.9zM919.9 693.4h39.5v19.9h-39.5zM997.6 693.4h20v19.9h-20zM1153.2 693.4h20v19.9h-20zM997.6 712.7h20v19.9h-20zM1231 712.7h39.5v19.9h-39.5zM1172.6 751.3h58.9v19.9h-58.9zM1133.7 770.6h20v19.9h-20zM1114.3 789.9h39.5v19.9h-39.5zM1133.7 809.2h20v19.9h-20zM1211.5 809.2h20v19.9h-20zM1133.7 828.5h20v19.9h-20zM1211.5 828.5h20v19.9h-20z"/><path fill="#414985" d="M919.9 674.1h39.5v19.9h-39.5zM1094.9 674.1h20v19.9h-20zM1133.7 693.4h20v19.9h-20zM1172.6 712.7h20v19.9h-20zM1231 732h39.5v19.9h-39.5zM997.6 751.3h20v19.9h-20zM1153.2 751.3h20v19.9h-20zM919.9 770.6h58.9v19.9h-58.9zM1114.3 770.6h20v19.9h-20zM1153.2 770.6h20v19.9h-20zM1192.1 770.6h39.5v19.9h-39.5zM1192.1 809.2h20v19.9h-20zM1231 809.2h39.5v19.9h-39.5zM1192.1 828.5h20v19.9h-20zM1231 828.5h39.5v19.9h-39.5z"/><path fill="#3f678a" d="M1056 500.4h39.5v19.9h-39.5zM1056 519.7h39.5v19.9h-39.5zM1056 539h39.5v19.9h-39.5zM1211.5 539h20v19.9h-20zM1192.1 558.3h20v19.9h-20zM1133.7 577.6h39.5v19.9h-39.5zM1192.1 577.6h20v19.9h-20zM1094.9 596.9h20v19.9h-20zM1094.9 616.2h20v19.9h-20zM1231 616.2h39.5v19.9h-39.5zM1036.5 635.5h20v19.9h-20zM1094.9 635.5h20v19.9h-20zM919.9 654.8h39.5v19.9h-39.5zM1094.9 654.8h20v19.9h-20zM1114.3 693.4h20v19.9h-20zM1153.2 712.7h20v19.9h-20zM1211.5 712.7h20v19.9h-20zM1017.1 732h20v19.9h-20zM1211.5 732h20v19.9h-20zM1133.7 751.3h20v19.9h-20zM978.2 770.6h20v19.9h-20zM1172.6 770.6h20v19.9h-20zM1094.9 789.9h20v19.9h-20zM1153.2 789.9h58.9v19.9h-58.9zM1114.3 809.2h20v19.9h-20zM1114.3 828.5h20v19.9h-20z"/><path fill="#43818c" d="M1172.6 500.4h20v19.9h-20zM1211.5 500.4h20v19.9h-20zM1172.6 519.7h20v19.9h-20zM1211.5 519.7h20v19.9h-20zM958.7 539h20v19.9h-20zM1056 558.3h20v19.9h-20zM1153.2 558.3h20v19.9h-20zM1231 558.3h39.5v19.9h-39.5zM1094.9 577.6h39.5v19.9h-39.5zM1172.6 577.6h20v19.9h-20zM1231 577.6h39.5v19.9h-39.5zM1231 596.9h39.5v19.9h-39.5zM1075.4 616.2h20v19.9h-20zM1036.5 654.8h20v19.9h-20zM1017.1 674.1h20v19.9h-20zM1075.4 674.1h20v19.9h-20zM1094.9 693.4h20v19.9h-20zM1133.7 712.7h20v19.9h-20zM1192.1 712.7h20v19.9h-20zM1133.7 732h78.4v19.9h-78.4zM1114.3 751.3h20v19.9h-20zM1231 751.3h39.5v19.9h-39.5zM1094.9 770.6h20v19.9h-20zM919.9 789.9h58.9v19.9h-58.9zM1211.5 789.9h58.9v19.9h-58.9zM1094.9 809.2h20v19.9h-20zM1094.9 828.5h20v19.9h-20z"/><path fill="#4c9b89" d="M958.7 500.4h20v19.9h-20zM1036.5 500.4h20v19.9h-20zM1094.9 500.4h20v19.9h-20zM1231 500.4h39.5v19.9h-39.5zM958.7 519.7h20v19.9h-20zM1036.5 519.7h20v19.9h-20zM1094.9 519.7h20v19.9h-20zM1231 519.7h39.5v19.9h-39.5zM919.9 539h39.5v19.9h-39.5zM1036.5 539h20v19.9h-20zM1094.9 539h20v19.9h-20zM1172.6 539h20v19.9h-20zM1231 539h39.5v19.9h-39.5zM919.9 558.3h39.5v19.9h-39.5zM1094.9 558.3h20v19.9h-20zM1133.7 558.3h20v19.9h-20zM1172.6 558.3h20v19.9h-20zM919.9 577.6h39.5v19.9h-39.5zM1056 577.6h20v19.9h-20zM919.9 596.9h39.5v19.9h-39.5zM1056 596.9h39.5v19.9h-39.5zM919.9 616.2h39.5v19.9h-39.5zM1036.5 616.2h39.5v19.9h-39.5zM919.9 635.5h39.5v19.9h-39.5zM1017.1 635.5h20v19.9h-20zM1056 635.5h39.5v19.9h-39.5zM958.7 654.8h20v19.9h-20zM997.6 654.8h39.5v19.9h-39.5zM1075.4 654.8h20v19.9h-20zM1036.5 674.1h39.5v19.9h-39.5zM1075.4 693.4h20v19.9h-20zM1114.3 712.7h20v19.9h-20zM1114.3 732h20v19.9h-20zM1094.9 751.3h20v19.9h-20zM1075.4 770.6h20v19.9h-20zM1231 770.6h39.5v19.9h-39.5zM978.2 789.9h20v19.9h-20zM919.9 809.2h78.4v19.9h-78.4zM919.9 828.5h78.4v19.9h-78.4z"/><path fill="#5fb57e" d="M919.9 500.4h39.5v19.9h-39.5zM1114.3 500.4h58.9v19.9h-58.9zM919.9 519.7h39.5v19.9h-39.5zM1114.3 519.7h58.9v19.9h-58.9zM1114.3 539h58.9v19.9h-58.9zM958.7 558.3h20v19.9h-20zM1036.5 558.3h20v19.9h-20zM1114.3 558.3h20v19.9h-20zM958.7 577.6h20v19.9h-20zM1036.5 577.6h20v19.9h-20zM1075.4 577.6h20v19.9h-20zM958.7 596.9h20v19.9h-20zM997.6 596.9h20v19.9h-20zM1036.5 596.9h20v19.9h-20zM958.7 616.2h20v19.9h-20zM1017.1 616.2h20v19.9h-20zM958.7 635.5h58.9v19.9h-58.9zM978.2 654.8h20v19.9h-20zM1056 654.8h20v19.9h-20zM1017.1 693.4h58.9v19.9h-58.9zM1017.1 712.7h20v19.9h-20zM1056 712.7h58.9v19.9h-58.9zM1036.5 732h20v19.9h-20zM1094.9 732h20v19.9h-20zM1017.1 751.3h78.4v19.9h-78.4zM1056 770.6h20v19.9h-20zM1075.4 789.9h20v19.9h-20zM1075.4 809.2h20v19.9h-20zM1075.4 828.5h20v19.9h-20z"/><path fill="#86cc68" d="M978.2 500.4h58.9v19.9h-58.9zM978.2 519.7h58.9v19.9h-58.9zM978.2 539h20v19.9h-20zM1017.1 539h20v19.9h-20zM978.2 558.3h58.9v19.9h-58.9zM1075.4 558.3h20v19.9h-20zM978.2 577.6h20v19.9h-20zM1017.1 577.6h20v19.9h-20zM978.2 596.9h20v19.9h-20zM1017.1 596.9h20v19.9h-20zM978.2 616.2h39.5v19.9h-39.5zM1036.5 712.7h20v19.9h-20zM1056 732h39.5v19.9h-39.5zM997.6 770.6h20v19.9h-20zM1036.5 770.6h20v19.9h-20zM1056 789.9h20v19.9h-20zM1056 809.2h20v19.9h-20zM1056 828.5h20v19.9h-20z"/><path fill="#bddc51" d="M997.6 539h20v19.9h-20zM997.6 577.6h20v19.9h-20zM1017.1 770.6h20v19.9h-20zM997.6 789.9h20v19.9h-20zM1036.5 789.9h20v19.9h-20zM997.6 809.2h20v19.9h-20zM1036.5 809.2h20v19.9h-20zM997.6 828.5h20v19.9h-20zM1036.5 828.5h20v19.9h-20z"/><path fill="#fae855" d="M1017.1 789.9h20v19.9h-20zM1017.1 809.2h20v19.9h-20zM1017.1 828.5h20v19.9h-20z"/></g>
</g>
<rect x="939.6" y="520" width="311.1" height="308.8" fill="none" stroke="#0c0c14" stroke-opacity="0.8" stroke-width="2.6"/>
<g filter="url(#tb)">
<text class="t" x="940.8" y="877.6" text-anchor="middle">0</text>
<text class="t" x="1059.6" y="877.6" text-anchor="middle">25</text>
<text class="t" x="1180.3" y="877.6" text-anchor="middle">50</text>
<text class="t" x="914.8" y="533.6" text-anchor="end">0</text>
<text class="t" x="912.3" y="630.1" text-anchor="end">20</text>
<text class="t" x="912.3" y="726.6" text-anchor="end">40</text>
<text class="t" x="912.3" y="823.1" text-anchor="end">60</text>
<path d="M941.3 828.8v12M1061.9 828.8v12M1182.6 828.8v12M939.6 522.4h-12M939.6 618.9h-12M939.6 715.4h-12M939.6 811.9h-12" stroke="#262626" stroke-width="2.6" fill="none"/>
</g>
<rect x="939.8" y="519.8" width="155.4" height="178.8" fill="none" stroke="#ea3323" stroke-width="6.5"/>
<g clip-path="url(#cp5)">
<rect x="1381.8" y="517.5" width="316.1" height="315.3" fill="#421964"/>
<g transform="translate(1386.2 521.9) scale(4.8766 4.8641)">
<path d="M12.1 -1 L13.5 10.3 L15.3 21.8 L18.2 33.6 L19.6 42.6 L22.5 51.6 L26.8 58.7 L30.2 64.5" fill="none" stroke="#3e0851" stroke-width="0.9" stroke-linecap="round" stroke-linejoin="round" opacity="0.9" filter="url(#d05)"/>
<ellipse cx="4.3" cy="21.5" rx="2.2" ry="4.5" fill="#423b7f" filter="url(#d15)"/>
<ellipse cx="3.5" cy="5" rx="2" ry="6" fill="#432c75" filter="url(#d2)"/>
<ellipse cx="60" cy="7.5" rx="1.6" ry="6.5" fill="#414483" filter="url(#d15)"/>
<ellipse cx="60.3" cy="8.5" rx="1" ry="2.5" fill="#3f5788" filter="url(#d1)"/>
<ellipse cx="27.4" cy="20.2" rx="1.7" ry="1.6" fill="#44848c" filter="url(#d07)"/>
<ellipse cx="30.3" cy="23.6" rx="1.7" ry="1.6" fill="#40728c" filter="url(#d07)"/>
<ellipse cx="47.6" cy="46.9" rx="1.4" ry="1.4" fill="#41778c" filter="url(#d07)"/>
<ellipse cx="11.7" cy="47.6" rx="1.6" ry="3.2" fill="#423e80" transform="rotate(-20 11.7 47.6)" filter="url(#d15)"/>
<ellipse cx="19" cy="56" rx="1.6" ry="4" fill="#43357c" transform="rotate(-15 19 56)" filter="url(#d15)"/>
<ellipse cx="34.8" cy="36.1" rx="1.5" ry="3" fill="#414483" filter="url(#d1)"/>
<ellipse cx="30" cy="37.5" rx="2" ry="2" fill="#43357c" filter="url(#d15)"/>
<ellipse cx="28" cy="29" rx="1.5" ry="2" fill="#432f78" filter="url(#d15)"/>
<ellipse cx="52.6" cy="26.2" rx="3" ry="2" fill="#432c75" filter="url(#d2)"/>
<ellipse cx="41" cy="44" rx="2" ry="2" fill="#433179" filter="url(#d15)"/>
<ellipse cx="29" cy="46" rx="1" ry="1" fill="#43357c" filter="url(#d07)"/>
<ellipse cx="33.5" cy="46" rx="1" ry="1" fill="#432f78" filter="url(#d07)"/>
</g>
</g>
<rect x="1383.8" y="519.5" width="312.1" height="311.3" fill="none" stroke="#0c0c14" stroke-opacity="0.8" stroke-width="2.6"/>
<g filter="url(#tb)">
<text class="t" x="1385" y="879.6" text-anchor="middle">0</text>
<text class="t" x="1504.8" y="879.6" text-anchor="middle">25</text>
<text class="t" x="1626.4" y="879.6" text-anchor="middle">50</text>
<text class="t" x="1359" y="533.1" text-anchor="end">0</text>
<text class="t" x="1356.5" y="630.4" text-anchor="end">20</text>
<text class="t" x="1356.5" y="727.7" text-anchor="end">40</text>
<text class="t" x="1356.5" y="825" text-anchor="end">60</text>
<path d="M1385.5 830.8v12M1507.1 830.8v12M1628.7 830.8v12M1383.8 521.9h-12M1383.8 619.2h-12M1383.8 716.5h-12M1383.8 813.8h-12" stroke="#262626" stroke-width="2.6" fill="none"/>
</g>
<rect x="1441.3" y="565.4" width="149.5" height="155.7" fill="none" stroke="#ea3323" stroke-width="6.5"/>
<g clip-path="url(#cp6)">
<rect x="477" y="906.3" width="320.6" height="318.3" fill="#3e0851"/>
<g filter="url(#b9)"><path fill="#3e0851" d="M637 986.6h20.4v20.2h-20.4zM637 1006.2h40.2v20.2h-40.2zM577.6 1025.9h99.5v20.2h-99.5zM458.9 1045.5h60v20.2h-60zM557.9 1045.5h139.1v20.2h-139.1zM755.7 1045.5h60v20.2h-60zM458.9 1065.1h356.8v20.2h-356.8zM458.9 1084.8h356.8v20.2h-356.8zM458.9 1104.4h356.8v20.2h-356.8zM458.9 1124.1h356.8v20.2h-356.8zM458.9 1143.7h356.8v20.2h-356.8zM458.9 1163.4h356.8v20.2h-356.8zM458.9 1183h356.8v20.2h-356.8zM458.9 1202.7h356.8v20.2h-356.8zM458.9 1222.3h356.8v20.2h-356.8z"/><path fill="#432973" d="M656.8 986.6h20.4v20.2h-20.4zM617.2 1006.2h20.4v20.2h-20.4zM458.9 1025.9h40.2v20.2h-40.2zM557.9 1025.9h20.4v20.2h-20.4zM676.6 1025.9h20.4v20.2h-20.4zM775.5 1025.9h40.2v20.2h-40.2zM518.3 1045.5h20.4v20.2h-20.4zM696.4 1045.5h20.4v20.2h-20.4zM735.9 1045.5h20.4v20.2h-20.4z"/><path fill="#414985" d="M637 966.9h20.4v20.2h-20.4zM498.5 1025.9h20.4v20.2h-20.4zM538.1 1045.5h20.4v20.2h-20.4zM716.2 1045.5h20.4v20.2h-20.4z"/><path fill="#3f678a" d="M538.1 947.3h20.4v20.2h-20.4zM637 947.3h20.4v20.2h-20.4zM656.8 966.9h20.4v20.2h-20.4zM617.2 986.6h20.4v20.2h-20.4zM597.4 1006.2h20.4v20.2h-20.4zM676.6 1006.2h20.4v20.2h-20.4zM518.3 1025.9h20.4v20.2h-20.4zM755.7 1025.9h20.4v20.2h-20.4z"/><path fill="#43818c" d="M577.6 927.6h40.2v20.2h-40.2zM656.8 927.6h20.4v20.2h-20.4zM518.3 947.3h20.4v20.2h-20.4zM557.9 947.3h20.4v20.2h-20.4zM656.8 947.3h20.4v20.2h-20.4zM755.7 947.3h20.4v20.2h-20.4zM538.1 966.9h20.4v20.2h-20.4zM617.2 966.9h20.4v20.2h-20.4zM755.7 966.9h20.4v20.2h-20.4zM676.6 986.6h20.4v20.2h-20.4zM458.9 1006.2h40.2v20.2h-40.2zM557.9 1006.2h40.2v20.2h-40.2zM775.5 1006.2h40.2v20.2h-40.2zM538.1 1025.9h20.4v20.2h-20.4zM696.4 1025.9h20.4v20.2h-20.4z"/><path fill="#4c9b89" d="M557.9 888.4h119.3v20.2h-119.3zM557.9 908h119.3v20.2h-119.3zM538.1 927.6h40.2v20.2h-40.2zM617.2 927.6h20.4v20.2h-20.4zM676.6 927.6h20.4v20.2h-20.4zM755.7 927.6h60v20.2h-60zM617.2 947.3h20.4v20.2h-20.4zM676.6 947.3h79.8v20.2h-79.8zM775.5 947.3h40.2v20.2h-40.2zM518.3 966.9h20.4v20.2h-20.4zM676.6 966.9h79.8v20.2h-79.8zM775.5 966.9h40.2v20.2h-40.2zM538.1 986.6h20.4v20.2h-20.4zM597.4 986.6h20.4v20.2h-20.4zM696.4 986.6h20.4v20.2h-20.4zM755.7 986.6h60v20.2h-60zM498.5 1006.2h60v20.2h-60zM696.4 1006.2h20.4v20.2h-20.4zM755.7 1006.2h20.4v20.2h-20.4zM716.2 1025.9h40.2v20.2h-40.2z"/><path fill="#5fb57e" d="M518.3 888.4h40.2v20.2h-40.2zM676.6 888.4h20.4v20.2h-20.4zM755.7 888.4h60v20.2h-60zM518.3 908h40.2v20.2h-40.2zM676.6 908h20.4v20.2h-20.4zM755.7 908h60v20.2h-60zM518.3 927.6h20.4v20.2h-20.4zM637 927.6h20.4v20.2h-20.4zM696.4 927.6h20.4v20.2h-20.4zM498.5 947.3h20.4v20.2h-20.4zM577.6 947.3h20.4v20.2h-20.4zM458.9 966.9h60v20.2h-60zM557.9 966.9h20.4v20.2h-20.4zM458.9 986.6h79.7v20.2h-79.7zM557.9 986.6h40.2v20.2h-40.2zM716.2 986.6h40.2v20.2h-40.2zM716.2 1006.2h40.2v20.2h-40.2z"/><path fill="#86cc68" d="M458.9 888.4h60v20.2h-60zM696.4 888.4h20.4v20.2h-20.4zM735.9 888.4h20.4v20.2h-20.4zM458.9 908h60v20.2h-60zM696.4 908h20.4v20.2h-20.4zM735.9 908h20.4v20.2h-20.4zM458.9 927.6h60v20.2h-60zM735.9 927.6h20.4v20.2h-20.4zM458.9 947.3h40.2v20.2h-40.2zM597.4 947.3h20.4v20.2h-20.4zM577.6 966.9h40.2v20.2h-40.2z"/><path fill="#bddc51" d="M716.2 888.4h20.4v20.2h-20.4zM716.2 908h20.4v20.2h-20.4zM716.2 927.6h20.4v20.2h-20.4z"/></g>
</g>
<rect x="479" y="908.3" width="316.6" height="314.3" fill="none" stroke="#0c0c14" stroke-opacity="0.8" stroke-width="2.6"/>
<g filter="url(#tb)">
<text class="t" x="480.3" y="1271.4" text-anchor="middle">0</text>
<text class="t" x="601.2" y="1271.4" text-anchor="middle">25</text>
<text class="t" x="724" y="1271.4" text-anchor="middle">50</text>
<text class="t" x="454.2" y="922" text-anchor="end">0</text>
<text class="t" x="451.7" y="1020.2" text-anchor="end">20</text>
<text class="t" x="451.7" y="1118.4" text-anchor="end">40</text>
<text class="t" x="451.7" y="1216.6" text-anchor="end">60</text>
<path d="M480.8 1222.6v12M603.5 1222.6v12M726.3 1222.6v12M479 910.8h-12M479 1009h-12M479 1107.2h-12M479 1205.4h-12" stroke="#262626" stroke-width="2.6" fill="none"/>
</g>
<rect x="608" y="987.2" width="151.6" height="155.7" fill="none" stroke="#ea3323" stroke-width="6.5"/>
<g clip-path="url(#cp7)">
<rect x="937.1" y="901.3" width="314.3" height="313.6" fill="#3e0851"/>
<g filter="url(#b9)"><path fill="#3e0851" d="M977.6 941.7h20v20h-20zM977.6 961.1h20v20h-20zM977.6 980.4h20v20h-20zM1132.7 980.4h78.2v20h-78.2zM1113.3 999.8h97.6v20h-97.6zM1113.3 1019.1h117v20h-117zM1113.3 1038.5h155.7v20h-155.7zM958.2 1057.8h39.4v20h-39.4zM1113.3 1057.8h155.7v20h-155.7zM958.2 1077.2h58.8v20h-58.8zM1171.5 1077.2h97.6v20h-97.6zM919.4 1096.5h97.6v20h-97.6zM1229.7 1096.5h39.4v20h-39.4zM919.4 1115.9h97.6v20h-97.6zM919.4 1135.2h97.6v20h-97.6z"/><path fill="#432973" d="M977.6 883.6h20v20h-20zM1190.9 883.6h20v20h-20zM977.6 903h20v20h-20zM1190.9 903h20v20h-20zM958.2 922.4h39.4v20h-39.4zM1190.9 922.4h20v20h-20zM958.2 941.7h20v20h-20zM1210.3 941.7h20v20h-20zM1190.9 961.1h39.4v20h-39.4zM1113.3 980.4h20v20h-20zM977.6 999.8h39.4v20h-39.4zM1094 999.8h20v20h-20zM1210.3 999.8h20v20h-20zM977.6 1019.1h20v20h-20zM1229.7 1019.1h39.4v20h-39.4zM958.2 1038.5h39.4v20h-39.4zM1055.2 1038.5h20v20h-20zM997 1057.8h20v20h-20zM1094 1057.8h20v20h-20zM919.4 1077.2h39.4v20h-39.4zM1152.1 1077.2h20v20h-20zM1210.3 1096.5h20v20h-20zM1016.4 1115.9h20v20h-20zM1171.5 1135.2h39.4v20h-39.4zM1152.1 1154.6h20v20h-20zM1190.9 1154.6h39.4v20h-39.4zM1190.9 1173.9h39.4v20h-39.4zM1152.1 1193.3h78.2v20h-78.2zM1152.1 1212.6h78.2v20h-78.2z"/><path fill="#414985" d="M958.2 883.6h20v20h-20zM958.2 903h20v20h-20zM1190.9 941.7h20v20h-20zM1229.7 941.7h39.4v20h-39.4zM958.2 961.1h20v20h-20zM1113.3 961.1h20v20h-20zM1171.5 961.1h20v20h-20zM1229.7 961.1h39.4v20h-39.4zM958.2 980.4h20v20h-20zM997 980.4h20v20h-20zM1210.3 980.4h20v20h-20zM958.2 999.8h20v20h-20zM958.2 1019.1h20v20h-20zM997 1019.1h20v20h-20zM1094 1019.1h20v20h-20zM997 1038.5h20v20h-20zM1035.8 1038.5h20v20h-20zM1074.6 1057.8h20v20h-20zM1094 1077.2h58.8v20h-58.8zM1190.9 1096.5h20v20h-20zM1016.4 1135.2h20v20h-20zM1152.1 1135.2h20v20h-20zM1210.3 1135.2h20v20h-20zM1132.7 1154.6h20v20h-20zM1171.5 1154.6h20v20h-20zM1229.7 1154.6h39.4v20h-39.4zM1113.3 1173.9h58.8v20h-58.8zM1229.7 1173.9h39.4v20h-39.4zM1132.7 1193.3h20v20h-20zM1229.7 1193.3h39.4v20h-39.4zM1132.7 1212.6h20v20h-20zM1229.7 1212.6h39.4v20h-39.4z"/><path fill="#3f678a" d="M1094 883.6h39.4v20h-39.4zM1210.3 883.6h20v20h-20zM1094 903h39.4v20h-39.4zM1210.3 903h20v20h-20zM919.4 922.4h39.4v20h-39.4zM1094 922.4h39.4v20h-39.4zM1210.3 922.4h20v20h-20zM919.4 941.7h39.4v20h-39.4zM1113.3 941.7h20v20h-20zM1171.5 941.7h20v20h-20zM997 961.1h20v20h-20zM1132.7 961.1h20v20h-20zM1094 980.4h20v20h-20zM1229.7 980.4h39.4v20h-39.4zM1229.7 999.8h39.4v20h-39.4zM1074.6 1019.1h20v20h-20zM1094 1038.5h20v20h-20zM919.4 1057.8h39.4v20h-39.4zM1055.2 1057.8h20v20h-20zM1016.4 1077.2h20v20h-20zM1074.6 1077.2h20v20h-20zM1113.3 1096.5h39.4v20h-39.4zM1171.5 1096.5h20v20h-20zM1152.1 1115.9h20v20h-20zM1190.9 1115.9h78.2v20h-78.2zM1132.7 1135.2h20v20h-20zM1229.7 1135.2h39.4v20h-39.4zM919.4 1154.6h78.2v20h-78.2zM1094 1154.6h39.4v20h-39.4zM1094 1173.9h20v20h-20zM1171.5 1173.9h20v20h-20zM1113.3 1193.3h20v20h-20zM1113.3 1212.6h20v20h-20z"/><path fill="#43818c" d="M919.4 883.6h39.4v20h-39.4zM1035.8 883.6h58.8v20h-58.8zM1171.5 883.6h20v20h-20zM1229.7 883.6h39.4v20h-39.4zM919.4 903h39.4v20h-39.4zM1035.8 903h58.8v20h-58.8zM1171.5 903h20v20h-20zM1229.7 903h39.4v20h-39.4zM1171.5 922.4h20v20h-20zM1229.7 922.4h39.4v20h-39.4zM997 941.7h20v20h-20zM1094 941.7h20v20h-20zM1094 961.1h20v20h-20zM1152.1 961.1h20v20h-20zM919.4 980.4h39.4v20h-39.4zM919.4 999.8h39.4v20h-39.4zM1016.4 999.8h20v20h-20zM1074.6 999.8h20v20h-20zM919.4 1019.1h39.4v20h-39.4zM1016.4 1019.1h58.8v20h-58.8zM919.4 1038.5h39.4v20h-39.4zM1016.4 1057.8h39.4v20h-39.4zM1035.8 1077.2h39.4v20h-39.4zM1016.4 1096.5h20v20h-20zM1055.2 1096.5h58.8v20h-58.8zM1152.1 1096.5h20v20h-20zM1035.8 1115.9h20v20h-20zM1132.7 1115.9h20v20h-20zM1171.5 1115.9h20v20h-20zM1035.8 1135.2h20v20h-20zM1074.6 1154.6h20v20h-20zM1094 1193.3h20v20h-20zM1094 1212.6h20v20h-20z"/><path fill="#4c9b89" d="M997 883.6h39.4v20h-39.4zM997 903h39.4v20h-39.4zM1035.8 922.4h58.8v20h-58.8zM1016.4 941.7h78.2v20h-78.2zM1132.7 941.7h20v20h-20zM919.4 961.1h39.4v20h-39.4zM1016.4 961.1h78.2v20h-78.2zM1016.4 980.4h78.2v20h-78.2zM1035.8 999.8h39.4v20h-39.4zM1016.4 1038.5h20v20h-20zM1074.6 1038.5h20v20h-20zM1035.8 1096.5h20v20h-20zM1055.2 1115.9h78.2v20h-78.2zM1055.2 1135.2h78.2v20h-78.2zM997 1154.6h20v20h-20zM1035.8 1154.6h39.4v20h-39.4zM919.4 1173.9h78.2v20h-78.2zM1074.6 1173.9h20v20h-20zM919.4 1193.3h78.2v20h-78.2zM1074.6 1193.3h20v20h-20zM919.4 1212.6h78.2v20h-78.2zM1074.6 1212.6h20v20h-20z"/><path fill="#5fb57e" d="M1132.7 883.6h20v20h-20zM1132.7 903h20v20h-20zM997 922.4h39.4v20h-39.4zM1132.7 922.4h20v20h-20zM1152.1 941.7h20v20h-20zM1016.4 1154.6h20v20h-20zM997 1173.9h20v20h-20zM1035.8 1173.9h39.4v20h-39.4zM1055.2 1193.3h20v20h-20zM1055.2 1212.6h20v20h-20z"/><path fill="#86cc68" d="M1152.1 883.6h20v20h-20zM1152.1 903h20v20h-20zM1152.1 922.4h20v20h-20zM997 1193.3h20v20h-20zM1035.8 1193.3h20v20h-20zM997 1212.6h20v20h-20zM1035.8 1212.6h20v20h-20z"/><path fill="#bddc51" d="M1016.4 1173.9h20v20h-20zM1016.4 1193.3h20v20h-20zM1016.4 1212.6h20v20h-20z"/></g>
</g>
<rect x="939.1" y="903.3" width="310.3" height="309.6" fill="none" stroke="#0c0c14" stroke-opacity="0.8" stroke-width="2.6"/>
<g filter="url(#tb)">
<text class="t" x="940.3" y="1261.7" text-anchor="middle">0</text>
<text class="t" x="1059.5" y="1261.7" text-anchor="middle">25</text>
<text class="t" x="1180.4" y="1261.7" text-anchor="middle">50</text>
<text class="t" x="914.3" y="916.9" text-anchor="end">0</text>
<text class="t" x="911.8" y="1013.7" text-anchor="end">20</text>
<text class="t" x="911.8" y="1110.4" text-anchor="end">40</text>
<text class="t" x="911.8" y="1207.2" text-anchor="end">60</text>
<path d="M940.8 1212.9v12M1061.8 1212.9v12M1182.7 1212.9v12M939.1 905.7h-12M939.1 1002.5h-12M939.1 1099.2h-12M939.1 1196h-12" stroke="#262626" stroke-width="2.6" fill="none"/>
</g>
<rect x="939.2" y="903.2" width="155.5" height="179.3" fill="none" stroke="#ea3323" stroke-width="6.5"/>
<g clip-path="url(#cp8)">
<rect x="1384.6" y="908" width="315.6" height="314.6" fill="#411661"/>
<g transform="translate(1389 912.4) scale(4.8688 4.8531)">
<ellipse cx="1.5" cy="48" rx="3" ry="12" fill="#432f78" transform="rotate(10 1.5 48)" filter="url(#d2)"/>
<ellipse cx="14" cy="50" rx="3" ry="9" fill="#432670" transform="rotate(-15 14 50)" filter="url(#d2)"/>
<ellipse cx="21" cy="6" rx="3" ry="8" fill="#43236e" filter="url(#d2)"/>
<path d="M13.5 14 L15 24 L17.5 33 L20.5 44 L24 54" fill="none" stroke="#3e0851" stroke-width="0.9" stroke-linecap="round" stroke-linejoin="round" opacity="0.7" filter="url(#d05)"/>
<ellipse cx="10.3" cy="63" rx="3.2" ry="2.6" fill="#417b8c" filter="url(#d15)"/>
<ellipse cx="27.2" cy="27.4" rx="10.6" ry="8.8" fill="#414483" transform="rotate(-32 27.2 27.4)" filter="url(#d2)"/>
<ellipse cx="27.2" cy="27.3" rx="8.8" ry="6.8" fill="#41778c" transform="rotate(-32 27.2 27.3)" filter="url(#d15)"/>
<ellipse cx="27.2" cy="27.1" rx="7.2" ry="5" fill="#58af82" transform="rotate(-32 27.2 27.1)" filter="url(#d1)"/>
<ellipse cx="24.8" cy="28.6" rx="3.3" ry="2.8" fill="#b9db52" transform="rotate(-32 24.8 28.6)" filter="url(#d1)"/>
<ellipse cx="30" cy="25.2" rx="3.1" ry="2.5" fill="#aed956" transform="rotate(-32 30 25.2)" filter="url(#d1)"/>
<ellipse cx="26.6" cy="27.4" rx="4.2" ry="1.7" fill="#fae855" transform="rotate(-32 26.6 27.4)" filter="url(#d1)"/>
</g>
</g>
<rect x="1386.6" y="910" width="311.6" height="310.6" fill="none" stroke="#0c0c14" stroke-opacity="0.8" stroke-width="2.6"/>
<g filter="url(#tb)">
<text class="t" x="1387.8" y="1269.4" text-anchor="middle">0</text>
<text class="t" x="1507.4" y="1269.4" text-anchor="middle">25</text>
<text class="t" x="1628.7" y="1269.4" text-anchor="middle">50</text>
<text class="t" x="1361.8" y="923.6" text-anchor="end">0</text>
<text class="t" x="1359.3" y="1020.7" text-anchor="end">20</text>
<text class="t" x="1359.3" y="1117.8" text-anchor="end">40</text>
<text class="t" x="1359.3" y="1214.8" text-anchor="end">60</text>
<path d="M1388.3 1220.6v12M1509.7 1220.6v12M1631 1220.6v12M1386.6 912.4h-12M1386.6 1009.5h-12M1386.6 1106.6h-12M1386.6 1203.6h-12" stroke="#262626" stroke-width="2.6" fill="none"/>
</g>
<rect x="1431.2" y="961.2" width="149.5" height="155.4" fill="none" stroke="#ea3323" stroke-width="6.5"/>
<g clip-path="url(#cp9)">
<rect x="477" y="1296.8" width="320.6" height="318.3" fill="#3e0851"/>
<g filter="url(#b9)"><path fill="#3e0851" d="M557.9 1318.1h20.4v20.2h-20.4zM637 1318.1h20.4v20.2h-20.4zM498.5 1357.4h20.4v20.2h-20.4zM498.5 1377.1h40.2v20.2h-40.2zM637 1377.1h20.4v20.2h-20.4zM617.2 1396.7h60v20.2h-60zM597.4 1416.4h60v20.2h-60zM458.9 1436h60v20.2h-60zM577.6 1436h60v20.2h-60zM716.2 1436h99.5v20.2h-99.5zM458.9 1455.6h178.7v20.2h-178.7zM735.9 1455.6h79.8v20.2h-79.8zM458.9 1475.3h178.7v20.2h-178.7zM735.9 1475.3h79.8v20.2h-79.8zM458.9 1494.9h198.5v20.2h-198.5zM735.9 1494.9h79.8v20.2h-79.8zM458.9 1514.6h218.3v20.2h-218.3zM716.2 1514.6h99.5v20.2h-99.5zM458.9 1534.2h356.8v20.2h-356.8zM458.9 1553.9h356.8v20.2h-356.8zM458.9 1573.5h356.8v20.2h-356.8zM458.9 1593.2h356.8v20.2h-356.8zM458.9 1612.8h356.8v20.2h-356.8z"/><path fill="#432973" d="M538.1 1278.9h40.2v20.2h-40.2zM617.2 1278.9h79.7v20.2h-79.7zM538.1 1298.5h40.2v20.2h-40.2zM617.2 1298.5h79.7v20.2h-79.7zM518.3 1318.1h40.2v20.2h-40.2zM617.2 1318.1h20.4v20.2h-20.4zM656.8 1318.1h40.2v20.2h-40.2zM498.5 1337.8h40.2v20.2h-40.2zM557.9 1337.8h79.7v20.2h-79.7zM656.8 1337.8h20.4v20.2h-20.4zM458.9 1357.4h40.2v20.2h-40.2zM557.9 1357.4h40.2v20.2h-40.2zM617.2 1357.4h20.4v20.2h-20.4zM656.8 1357.4h20.4v20.2h-20.4zM458.9 1377.1h40.2v20.2h-40.2zM538.1 1377.1h40.2v20.2h-40.2zM597.4 1377.1h40.2v20.2h-40.2zM656.8 1377.1h20.4v20.2h-20.4zM498.5 1396.7h20.4v20.2h-20.4zM557.9 1396.7h20.4v20.2h-20.4zM597.4 1396.7h20.4v20.2h-20.4zM498.5 1416.4h20.4v20.2h-20.4zM538.1 1416.4h20.4v20.2h-20.4zM577.6 1416.4h20.4v20.2h-20.4zM696.4 1416.4h20.4v20.2h-20.4zM755.7 1416.4h60v20.2h-60zM518.3 1436h60v20.2h-60zM637 1436h20.4v20.2h-20.4zM716.2 1455.6h20.4v20.2h-20.4zM716.2 1494.9h20.4v20.2h-20.4zM676.6 1514.6h20.4v20.2h-20.4z"/><path fill="#414985" d="M458.9 1278.9h79.7v20.2h-79.7zM577.6 1278.9h40.2v20.2h-40.2zM696.4 1278.9h60v20.2h-60zM458.9 1298.5h79.7v20.2h-79.7zM577.6 1298.5h40.2v20.2h-40.2zM696.4 1298.5h60v20.2h-60zM458.9 1318.1h60v20.2h-60zM577.6 1318.1h20.4v20.2h-20.4zM696.4 1318.1h60v20.2h-60zM458.9 1337.8h40.2v20.2h-40.2zM538.1 1337.8h20.4v20.2h-20.4zM637 1337.8h20.4v20.2h-20.4zM676.6 1337.8h40.2v20.2h-40.2zM518.3 1357.4h20.4v20.2h-20.4zM637 1357.4h20.4v20.2h-20.4zM676.6 1357.4h40.2v20.2h-40.2zM577.6 1377.1h20.4v20.2h-20.4zM676.6 1377.1h99.5v20.2h-99.5zM458.9 1396.7h40.2v20.2h-40.2zM518.3 1396.7h40.2v20.2h-40.2zM676.6 1396.7h99.5v20.2h-99.5zM458.9 1416.4h40.2v20.2h-40.2zM518.3 1416.4h20.4v20.2h-20.4zM557.9 1416.4h20.4v20.2h-20.4zM656.8 1416.4h20.4v20.2h-20.4zM716.2 1416.4h40.2v20.2h-40.2zM696.4 1436h20.4v20.2h-20.4zM637 1455.6h20.4v20.2h-20.4zM637 1475.3h20.4v20.2h-20.4zM716.2 1475.3h20.4v20.2h-20.4zM656.8 1494.9h20.4v20.2h-20.4z"/><path fill="#3f678a" d="M755.7 1278.9h60v20.2h-60zM755.7 1298.5h60v20.2h-60zM597.4 1318.1h20.4v20.2h-20.4zM755.7 1318.1h60v20.2h-60zM716.2 1337.8h20.4v20.2h-20.4zM538.1 1357.4h20.4v20.2h-20.4zM597.4 1357.4h20.4v20.2h-20.4zM716.2 1357.4h20.4v20.2h-20.4zM775.5 1357.4h40.2v20.2h-40.2zM775.5 1377.1h40.2v20.2h-40.2zM577.6 1396.7h20.4v20.2h-20.4zM676.6 1416.4h20.4v20.2h-20.4zM656.8 1436h20.4v20.2h-20.4zM676.6 1455.6h20.4v20.2h-20.4zM696.4 1514.6h20.4v20.2h-20.4z"/><path fill="#43818c" d="M735.9 1337.8h79.8v20.2h-79.8zM735.9 1357.4h40.2v20.2h-40.2zM775.5 1396.7h40.2v20.2h-40.2zM676.6 1436h20.4v20.2h-20.4zM656.8 1455.6h20.4v20.2h-20.4zM696.4 1455.6h20.4v20.2h-20.4zM656.8 1475.3h60v20.2h-60zM676.6 1494.9h40.2v20.2h-40.2z"/></g>
</g>
<rect x="479" y="1298.8" width="316.6" height="314.3" fill="none" stroke="#0c0c14" stroke-opacity="0.8" stroke-width="2.6"/>
<g filter="url(#tb)">
<text class="t" x="480.3" y="1661.9" text-anchor="middle">0</text>
<text class="t" x="601.2" y="1661.9" text-anchor="middle">25</text>
<text class="t" x="724" y="1661.9" text-anchor="middle">50</text>
<text class="t" x="454.2" y="1312.5" text-anchor="end">0</text>
<text class="t" x="451.7" y="1410.7" text-anchor="end">20</text>
<text class="t" x="451.7" y="1508.9" text-anchor="end">40</text>
<text class="t" x="451.7" y="1607.1" text-anchor="end">60</text>
<path d="M480.8 1613.1v12M603.5 1613.1v12M726.3 1613.1v12M479 1301.3h-12M479 1399.5h-12M479 1497.7h-12M479 1595.9h-12" stroke="#262626" stroke-width="2.6" fill="none"/>
</g>
<rect x="607.6" y="1386.5" width="151.6" height="155.4" fill="none" stroke="#ea3323" stroke-width="6.5"/>
<g clip-path="url(#cp10)">
<rect x="933.3" y="1295.6" width="317.7" height="317" fill="#3e0851"/>
<g filter="url(#b9)"><path fill="#3e0851" d="M1033 1375.5h59.4v20.2h-59.4zM1111.5 1395.1h118.2v20.2h-118.2zM1111.5 1414.7h118.2v20.2h-118.2zM1013.4 1434.2h20.2v20.2h-20.2zM1111.5 1434.2h118.2v20.2h-118.2zM1091.9 1453.8h137.8v20.2h-137.8zM915.4 1473.4h79v20.2h-79zM1150.7 1473.4h118.2v20.2h-118.2zM915.4 1492.9h79v20.2h-79zM1229.1 1492.9h39.8v20.2h-39.8zM915.4 1512.5h79v20.2h-79zM1229.1 1512.5h39.8v20.2h-39.8zM915.4 1532h59.4v20.2h-59.4z"/><path fill="#432973" d="M1033 1316.9h20.2v20.2h-20.2zM1189.9 1316.9h20.2v20.2h-20.2zM1229.1 1316.9h39.8v20.2h-39.8zM1052.6 1336.4h20.2v20.2h-20.2zM1189.9 1336.4h20.2v20.2h-20.2zM915.4 1356h39.8v20.2h-39.8zM1033 1356h79v20.2h-79zM1189.9 1356h20.2v20.2h-20.2zM1091.9 1375.5h59.4v20.2h-59.4zM1189.9 1375.5h79v20.2h-79zM1052.6 1395.1h20.2v20.2h-20.2zM1229.1 1395.1h39.8v20.2h-39.8zM1013.4 1414.7h20.2v20.2h-20.2zM1052.6 1414.7h20.2v20.2h-20.2zM1091.9 1414.7h20.2v20.2h-20.2zM1229.1 1414.7h39.8v20.2h-39.8zM915.4 1434.2h39.8v20.2h-39.8zM1033 1434.2h20.2v20.2h-20.2zM1091.9 1434.2h20.2v20.2h-20.2zM1033 1453.8h20.2v20.2h-20.2zM1229.1 1453.8h39.8v20.2h-39.8zM993.8 1473.4h20.2v20.2h-20.2zM1091.9 1473.4h59.4v20.2h-59.4zM993.8 1492.9h20.2v20.2h-20.2zM1091.9 1492.9h20.2v20.2h-20.2zM1131.1 1492.9h20.2v20.2h-20.2zM1189.9 1492.9h39.8v20.2h-39.8zM993.8 1512.5h20.2v20.2h-20.2zM1131.1 1512.5h20.2v20.2h-20.2zM1189.9 1512.5h20.2v20.2h-20.2zM974.2 1532h20.2v20.2h-20.2zM1052.6 1532h39.8v20.2h-39.8zM1111.5 1532h20.2v20.2h-20.2zM1150.7 1532h59.4v20.2h-59.4zM1229.1 1532h39.8v20.2h-39.8zM915.4 1551.6h59.4v20.2h-59.4zM1072.2 1551.6h39.8v20.2h-39.8zM1131.1 1551.6h79v20.2h-79zM954.6 1571.2h20.2v20.2h-20.2zM1072.2 1571.2h20.2v20.2h-20.2zM1111.5 1571.2h20.2v20.2h-20.2zM1170.3 1571.2h39.8v20.2h-39.8zM915.4 1590.7h59.4v20.2h-59.4zM1072.2 1590.7h20.2v20.2h-20.2zM1131.1 1590.7h137.8v20.2h-137.8zM915.4 1610.3h59.4v20.2h-59.4zM1072.2 1610.3h20.2v20.2h-20.2zM1131.1 1610.3h137.8v20.2h-137.8z"/><path fill="#414985" d="M1013.4 1277.7h20.2v20.2h-20.2zM1150.7 1277.7h20.2v20.2h-20.2zM1189.9 1277.7h20.2v20.2h-20.2zM1013.4 1297.3h20.2v20.2h-20.2zM1150.7 1297.3h20.2v20.2h-20.2zM1189.9 1297.3h20.2v20.2h-20.2zM1013.4 1316.9h20.2v20.2h-20.2zM1072.2 1316.9h20.2v20.2h-20.2zM1131.1 1316.9h59.4v20.2h-59.4zM1209.5 1316.9h20.2v20.2h-20.2zM915.4 1336.4h39.8v20.2h-39.8zM1013.4 1336.4h39.8v20.2h-39.8zM1072.2 1336.4h20.2v20.2h-20.2zM1131.1 1336.4h59.4v20.2h-59.4zM1209.5 1336.4h20.2v20.2h-20.2zM1013.4 1356h20.2v20.2h-20.2zM1131.1 1356h20.2v20.2h-20.2zM1209.5 1356h20.2v20.2h-20.2zM915.4 1375.5h39.8v20.2h-39.8zM1150.7 1375.5h39.8v20.2h-39.8zM915.4 1395.1h39.8v20.2h-39.8zM1013.4 1395.1h39.8v20.2h-39.8zM915.4 1414.7h39.8v20.2h-39.8zM1072.2 1414.7h20.2v20.2h-20.2zM1229.1 1434.2h39.8v20.2h-39.8zM915.4 1453.8h59.4v20.2h-59.4zM1052.6 1453.8h39.8v20.2h-39.8zM1052.6 1473.4h39.8v20.2h-39.8zM1052.6 1492.9h39.8v20.2h-39.8zM1111.5 1492.9h20.2v20.2h-20.2zM1150.7 1492.9h39.8v20.2h-39.8zM1052.6 1512.5h79v20.2h-79zM1150.7 1512.5h39.8v20.2h-39.8zM1209.5 1512.5h20.2v20.2h-20.2zM1033 1532h20.2v20.2h-20.2zM1091.9 1532h20.2v20.2h-20.2zM1131.1 1532h20.2v20.2h-20.2zM1209.5 1532h20.2v20.2h-20.2zM1033 1551.6h39.8v20.2h-39.8zM1111.5 1551.6h20.2v20.2h-20.2zM1229.1 1551.6h39.8v20.2h-39.8zM915.4 1571.2h39.8v20.2h-39.8zM1033 1571.2h39.8v20.2h-39.8zM1091.9 1571.2h20.2v20.2h-20.2zM1131.1 1571.2h39.8v20.2h-39.8zM1229.1 1571.2h39.8v20.2h-39.8zM974.2 1590.7h20.2v20.2h-20.2zM1033 1590.7h39.8v20.2h-39.8zM1091.9 1590.7h39.8v20.2h-39.8zM974.2 1610.3h20.2v20.2h-20.2zM1033 1610.3h39.8v20.2h-39.8zM1091.9 1610.3h39.8v20.2h-39.8z"/><path fill="#3f678a" d="M915.4 1277.7h39.8v20.2h-39.8zM1033 1277.7h79v20.2h-79zM1131.1 1277.7h20.2v20.2h-20.2zM1170.3 1277.7h20.2v20.2h-20.2zM915.4 1297.3h39.8v20.2h-39.8zM1033 1297.3h79v20.2h-79zM1131.1 1297.3h20.2v20.2h-20.2zM1170.3 1297.3h20.2v20.2h-20.2zM915.4 1316.9h39.8v20.2h-39.8zM1052.6 1316.9h20.2v20.2h-20.2zM1091.9 1316.9h20.2v20.2h-20.2zM1111.5 1356h20.2v20.2h-20.2zM1150.7 1356h39.8v20.2h-39.8zM1229.1 1356h39.8v20.2h-39.8zM1013.4 1375.5h20.2v20.2h-20.2zM1072.2 1395.1h39.8v20.2h-39.8zM1033 1414.7h20.2v20.2h-20.2zM1072.2 1434.2h20.2v20.2h-20.2zM993.8 1453.8h39.8v20.2h-39.8zM1033 1473.4h20.2v20.2h-20.2zM1033 1492.9h20.2v20.2h-20.2zM974.2 1551.6h20.2v20.2h-20.2zM1209.5 1551.6h20.2v20.2h-20.2zM974.2 1571.2h20.2v20.2h-20.2zM1013.4 1571.2h20.2v20.2h-20.2zM993.8 1590.7h39.8v20.2h-39.8zM993.8 1610.3h39.8v20.2h-39.8z"/><path fill="#43818c" d="M954.6 1277.7h20.2v20.2h-20.2zM993.8 1277.7h20.2v20.2h-20.2zM1229.1 1277.7h39.8v20.2h-39.8zM954.6 1297.3h20.2v20.2h-20.2zM993.8 1297.3h20.2v20.2h-20.2zM1229.1 1297.3h39.8v20.2h-39.8zM993.8 1316.9h20.2v20.2h-20.2zM1111.5 1316.9h20.2v20.2h-20.2zM1091.9 1336.4h39.8v20.2h-39.8zM1229.1 1336.4h39.8v20.2h-39.8zM954.6 1434.2h20.2v20.2h-20.2zM1052.6 1434.2h20.2v20.2h-20.2zM974.2 1453.8h20.2v20.2h-20.2zM1013.4 1551.6h20.2v20.2h-20.2zM1209.5 1571.2h20.2v20.2h-20.2z"/><path fill="#4c9b89" d="M1111.5 1277.7h20.2v20.2h-20.2zM1209.5 1277.7h20.2v20.2h-20.2zM1111.5 1297.3h20.2v20.2h-20.2zM1209.5 1297.3h20.2v20.2h-20.2zM954.6 1316.9h20.2v20.2h-20.2zM954.6 1336.4h20.2v20.2h-20.2zM993.8 1336.4h20.2v20.2h-20.2zM954.6 1356h20.2v20.2h-20.2zM954.6 1375.5h20.2v20.2h-20.2zM954.6 1395.1h20.2v20.2h-20.2zM954.6 1414.7h20.2v20.2h-20.2zM993.8 1434.2h20.2v20.2h-20.2zM1013.4 1473.4h20.2v20.2h-20.2zM1013.4 1512.5h39.8v20.2h-39.8zM993.8 1571.2h20.2v20.2h-20.2z"/><path fill="#5fb57e" d="M974.2 1277.7h20.2v20.2h-20.2zM974.2 1297.3h20.2v20.2h-20.2zM993.8 1356h20.2v20.2h-20.2zM993.8 1414.7h20.2v20.2h-20.2zM1013.4 1492.9h20.2v20.2h-20.2zM1013.4 1532h20.2v20.2h-20.2zM993.8 1551.6h20.2v20.2h-20.2z"/><path fill="#86cc68" d="M974.2 1316.9h20.2v20.2h-20.2zM993.8 1375.5h20.2v20.2h-20.2zM993.8 1395.1h20.2v20.2h-20.2zM974.2 1434.2h20.2v20.2h-20.2zM993.8 1532h20.2v20.2h-20.2z"/><path fill="#bddc51" d="M974.2 1375.5h20.2v20.2h-20.2zM974.2 1395.1h20.2v20.2h-20.2zM974.2 1414.7h20.2v20.2h-20.2z"/><path fill="#fae855" d="M974.2 1336.4h20.2v20.2h-20.2zM974.2 1356h20.2v20.2h-20.2z"/></g>
</g>
<rect x="935.3" y="1297.6" width="313.7" height="313" fill="none" stroke="#0c0c14" stroke-opacity="0.8" stroke-width="2.6"/>
<g filter="url(#tb)">
<text class="t" x="937.7" y="1659.4" text-anchor="middle">0</text>
<text class="t" x="1058.2" y="1659.4" text-anchor="middle">25</text>
<text class="t" x="1180.5" y="1659.4" text-anchor="middle">50</text>
<text class="t" x="910.5" y="1311.2" text-anchor="end">0</text>
<text class="t" x="908" y="1409.1" text-anchor="end">20</text>
<text class="t" x="908" y="1506.9" text-anchor="end">40</text>
<text class="t" x="908" y="1604.7" text-anchor="end">60</text>
<path d="M938.2 1610.6v12M1060.5 1610.6v12M1182.8 1610.6v12M935.3 1300h-12M935.3 1397.9h-12M935.3 1495.7h-12M935.3 1593.5h-12" stroke="#262626" stroke-width="2.6" fill="none"/>
</g>
<rect x="934.8" y="1296.8" width="155.4" height="178.7" fill="none" stroke="#ea3323" stroke-width="6.5"/>
<g clip-path="url(#cp11)">
<rect x="1377" y="1296.8" width="321.9" height="318.3" fill="#411661"/>
<g transform="translate(1381.5 1301.3) scale(4.9672 4.9109)">
<ellipse cx="2" cy="50" rx="3" ry="12" fill="#432f78" transform="rotate(8 2 50)" filter="url(#d2)"/>
<ellipse cx="8" cy="55" rx="3" ry="8" fill="#432c75" transform="rotate(-10 8 55)" filter="url(#d2)"/>
<ellipse cx="13" cy="8" rx="1.5" ry="8" fill="#432670" filter="url(#d15)"/>
<ellipse cx="59.5" cy="8.5" rx="1.5" ry="4" fill="#423b7f" filter="url(#d15)"/>
<ellipse cx="4.5" cy="21" rx="1.2" ry="3" fill="#432973" filter="url(#d15)"/>
<ellipse cx="47.2" cy="47.4" rx="1.3" ry="1.3" fill="#3f6d8b" filter="url(#d07)"/>
<ellipse cx="41" cy="45" rx="1.5" ry="1.5" fill="#432f78" filter="url(#d1)"/>
<ellipse cx="9.7" cy="62.5" rx="3.4" ry="2.8" fill="#43828c" filter="url(#d15)"/>
<ellipse cx="27" cy="27.5" rx="9.6" ry="9.2" fill="#414483" filter="url(#d2)"/>
<ellipse cx="27" cy="27.5" rx="8" ry="7.2" fill="#41778c" transform="rotate(-35 27 27.5)" filter="url(#d15)"/>
<ellipse cx="26.5" cy="28" rx="6.6" ry="5.4" fill="#55aa84" transform="rotate(-35 26.5 28)" filter="url(#d1)"/>
<ellipse cx="31" cy="23.5" rx="3" ry="2.6" fill="#63b87b" filter="url(#d1)"/>
<ellipse cx="25.5" cy="28.8" rx="4.8" ry="3.6" fill="#a8d758" transform="rotate(-25 25.5 28.8)" filter="url(#d1)"/>
<ellipse cx="28.5" cy="26.6" rx="3.4" ry="2" fill="#b9db52" transform="rotate(-20 28.5 26.6)" filter="url(#d1)"/>
<ellipse cx="25" cy="29" rx="3.4" ry="2.2" fill="#fae855" transform="rotate(-20 25 29)" filter="url(#d1)"/>
<ellipse cx="26.5" cy="35" rx="2.2" ry="2.6" fill="#3f5989" filter="url(#d15)"/>
<ellipse cx="26.7" cy="19.8" rx="1.8" ry="1.1" fill="#400e58" filter="url(#d07)"/>
</g>
</g>
<rect x="1379" y="1298.8" width="317.9" height="314.3" fill="none" stroke="#0c0c14" stroke-opacity="0.8" stroke-width="2.6"/>
<g filter="url(#tb)">
<text class="t" x="1380.3" y="1661.9" text-anchor="middle">0</text>
<text class="t" x="1501.2" y="1661.9" text-anchor="middle">25</text>
<text class="t" x="1624" y="1661.9" text-anchor="middle">50</text>
<text class="t" x="1354.2" y="1312.5" text-anchor="end">0</text>
<text class="t" x="1351.7" y="1410.7" text-anchor="end">20</text>
<text class="t" x="1351.7" y="1508.9" text-anchor="end">40</text>
<text class="t" x="1351.7" y="1607.1" text-anchor="end">60</text>
<path d="M1380.8 1613.1v12M1503.5 1613.1v12M1626.3 1613.1v12M1379 1301.3h-12M1379 1399.5h-12M1379 1497.7h-12M1379 1595.9h-12" stroke="#262626" stroke-width="2.6" fill="none"/>
</g>
<rect x="1432.5" y="1342.8" width="149" height="154.9" fill="none" stroke="#ea3323" stroke-width="6.5"/>
<text class="s" x="623" y="61.5">a)</text>
<text class="s" x="1055" y="63.5">b)</text>
<text class="s" x="1506" y="60.5">c)</text>
<text class="s" x="24.2" y="286.7" textLength="286.8" lengthAdjust="spacingAndGlyphs">Red Band:</text>
<rect x="24.2" y="292.3" width="286.8" height="4.5" fill="#000"/>
<text class="s" x="112.2" y="706.2" textLength="198.8" lengthAdjust="spacingAndGlyphs">nDSM:</text>
<rect x="112.2" y="711.8" width="198.8" height="4.5" fill="#000"/>
<text class="s" x="121.1" y="1106.7" textLength="210.9" lengthAdjust="spacingAndGlyphs">Y-NET:</text>
<rect x="121.1" y="1112.3" width="210.9" height="4.5" fill="#000"/>
<text class="s" x="25" y="1493" textLength="307" lengthAdjust="spacingAndGlyphs">Difference:</text>
<rect x="25" y="1498.6" width="307" height="4.5" fill="#000"/>
<text class="s" x="22" y="1707">Height (m):</text>
<text class="s" x="1727" y="273.7"><tspan font-size="72">1</tspan>)</text>
<text class="s" x="1727" y="692.5"><tspan font-size="72">2</tspan>)</text>
<text class="s" x="1727" y="1094.4"><tspan font-size="72">3</tspan>)</text>
<text class="s" x="1727" y="1485.7"><tspan font-size="72">4</tspan>)</text>
<path d="M831.1 78V1738M1290.8 78.5V1738M102.7 483.4H1768.3" stroke="#000" stroke-width="2" fill="none"/>
<rect x="434.4" y="1679.5" width="371.5" height="19.1" fill="url(#vg)" stroke="#777" stroke-width="1"/>
<path d="M434.4 1698.6v3M505.2 1698.6v3M575.9 1698.6v3M646.7 1698.6v3M717.4 1698.6v3M788.2 1698.6v3" stroke="#666" stroke-width="1.2" fill="none"/>
<text class="s" x="430" y="1752" style="font-size:72px">0</text>
<text class="s" x="812" y="1757" text-anchor="end" style="font-size:72px">15</text>
<rect x="877.7" y="1680.8" width="369.7" height="19.9" fill="url(#vg)" stroke="#777" stroke-width="1"/>
<path d="M877.7 1700.7v3M948.1 1700.7v3M1018.5 1700.7v3M1089.0 1700.7v3M1159.4 1700.7v3M1229.8 1700.7v3" stroke="#666" stroke-width="1.2" fill="none"/>
<text class="s" x="873" y="1754" style="font-size:72px">0</text>
<text class="s" x="1255" y="1760" text-anchor="end" style="font-size:72px">17</text>
<rect x="1325.5" y="1679.5" width="370.5" height="19.1" fill="url(#vg)" stroke="#777" stroke-width="1"/>
<path d="M1325.5 1698.6v3M1396.1 1698.6v3M1466.6 1698.6v3M1537.2 1698.6v3M1607.8 1698.6v3M1678.4 1698.6v3" stroke="#666" stroke-width="1.2" fill="none"/>
<text class="s" x="1321" y="1752" style="font-size:72px">0</text>
<text class="s" x="1686" y="1756" text-anchor="end" style="font-size:72px">8</text>
</svg></body></html>
